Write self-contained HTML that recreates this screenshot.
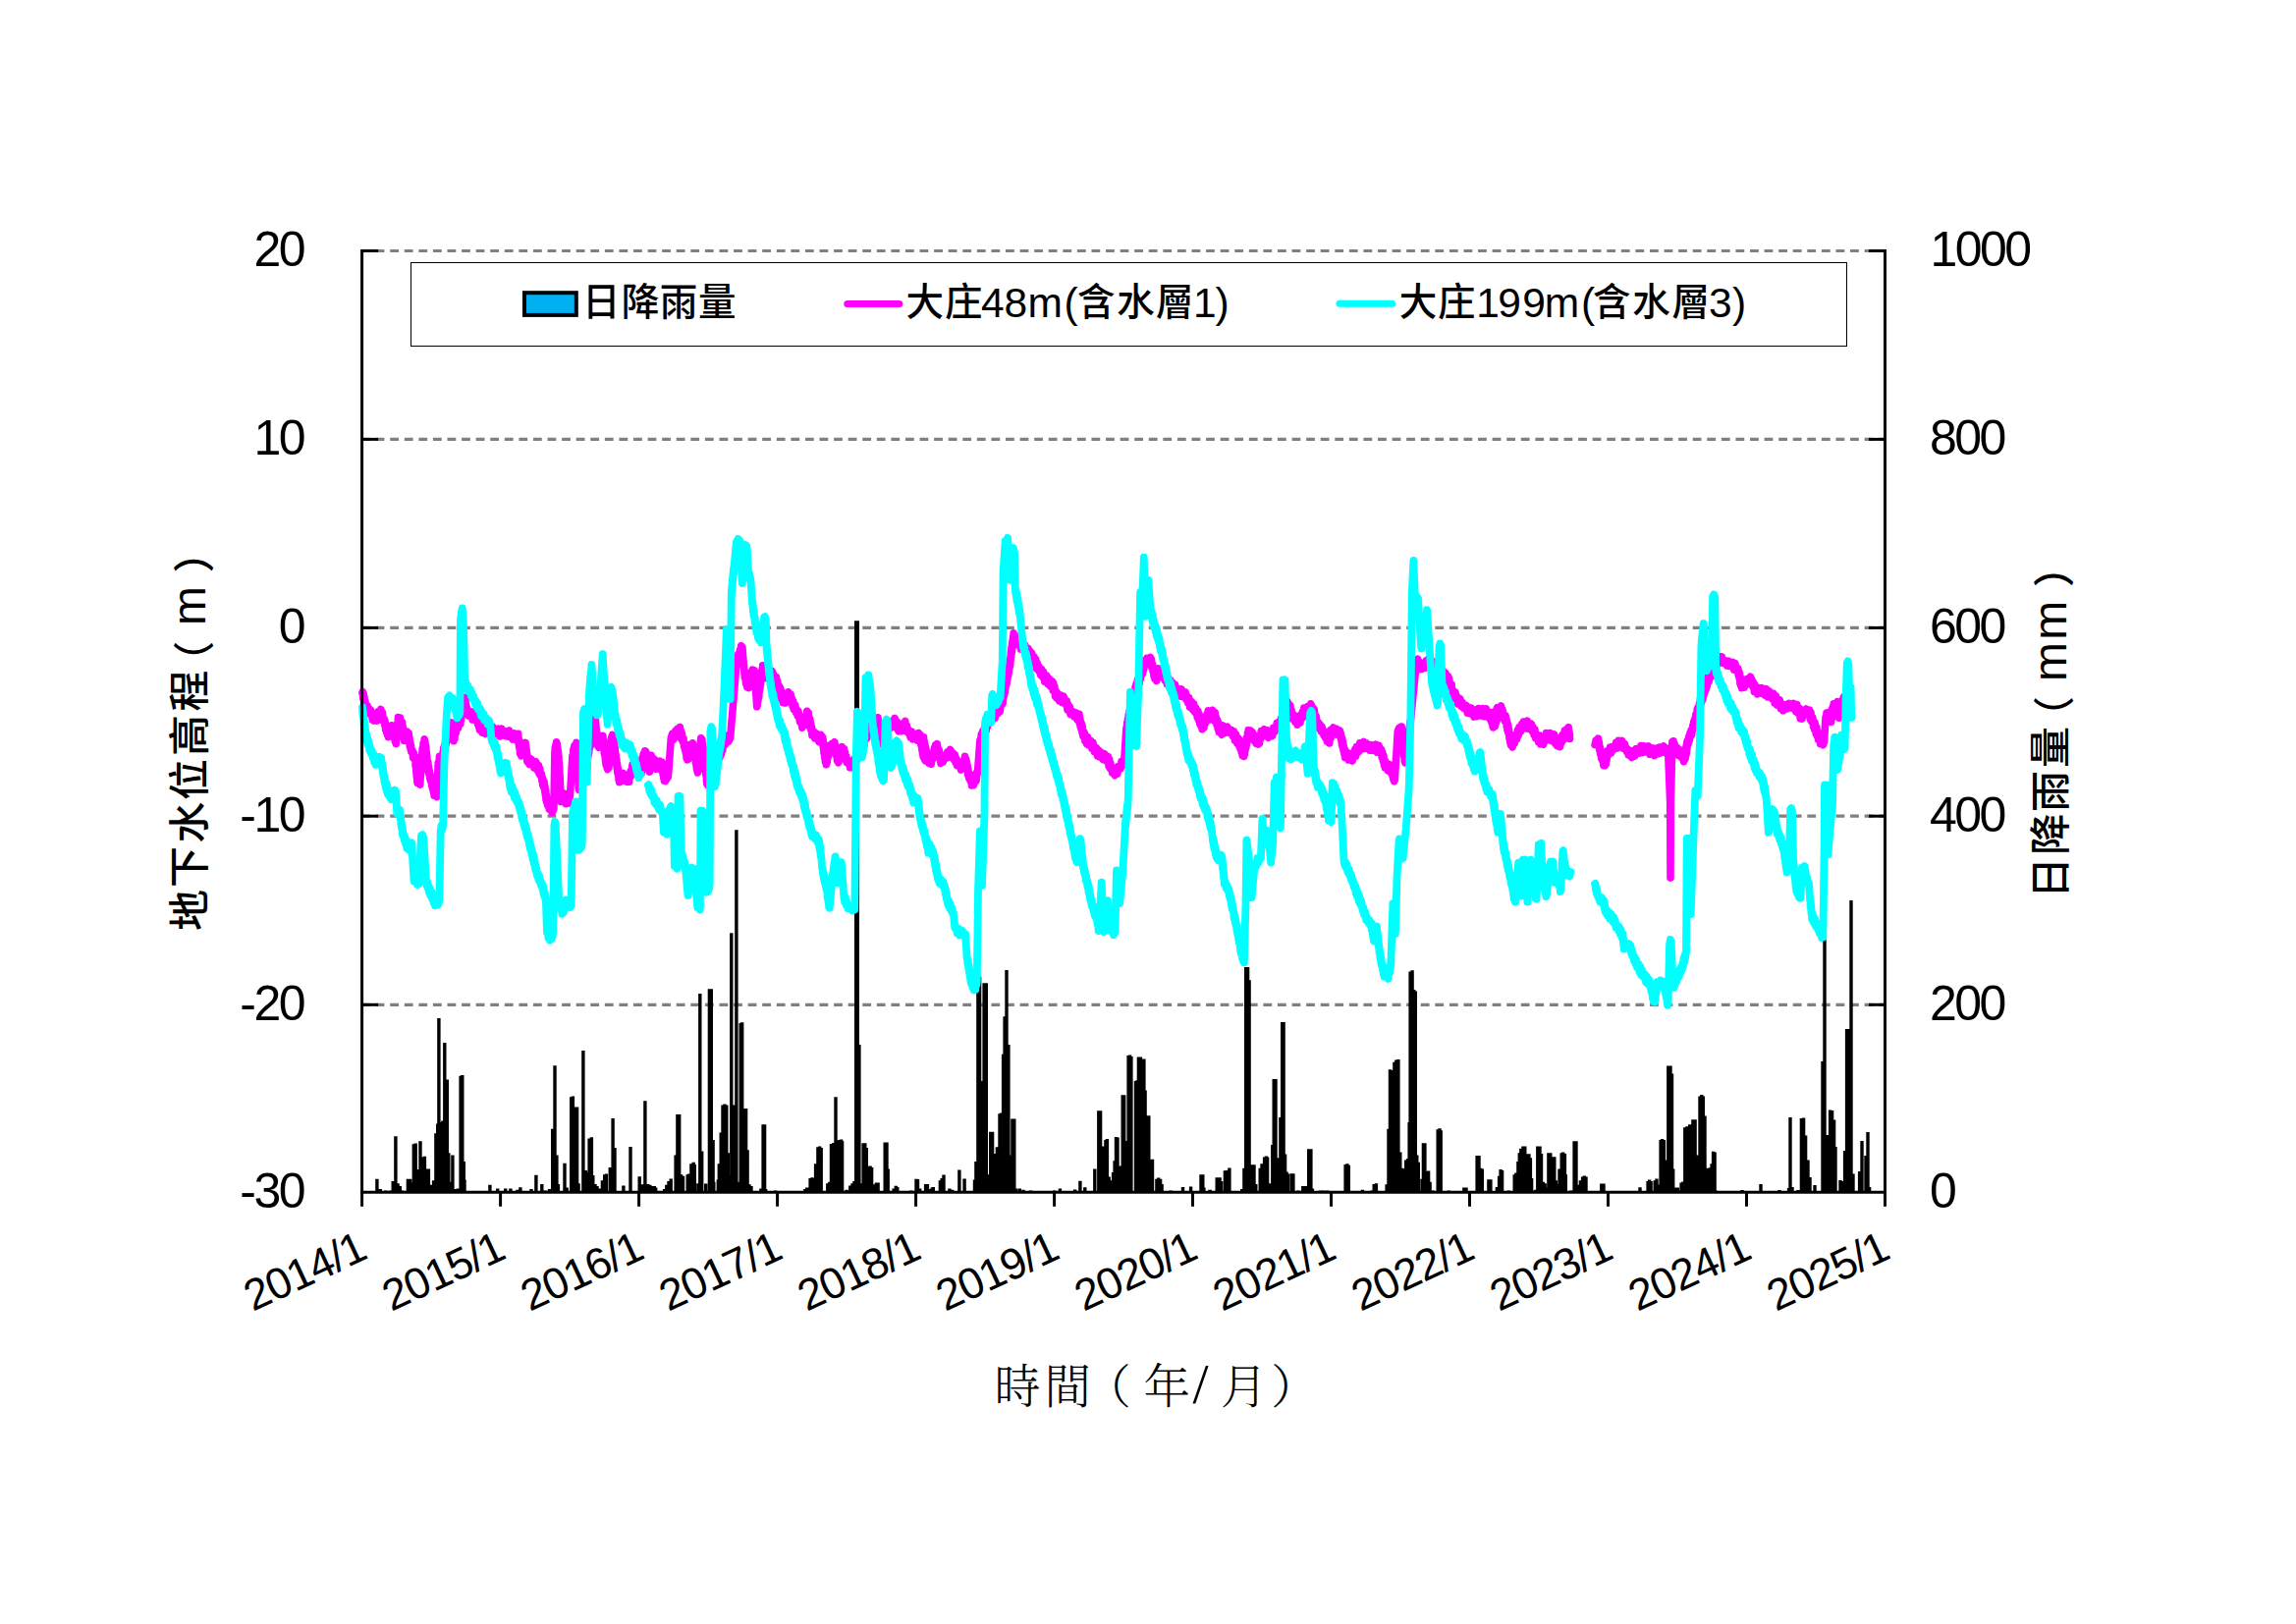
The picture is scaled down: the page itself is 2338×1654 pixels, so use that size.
<!DOCTYPE html>
<html lang="zh-Hant"><head><meta charset="utf-8"><title>地下水位與日降雨量</title>
<style>html,body{margin:0;padding:0;background:#fff}svg{display:block}text{font-family:"Liberation Sans","Noto Sans CJK TC","Noto Sans CJK SC",sans-serif;fill:#000;font-weight:500}.n{font-weight:400}.kai{font-family:"Liberation Serif","Noto Serif CJK TC","Noto Serif CJK SC",serif;font-weight:300}</style></head><body>
<svg width="2338" height="1654" viewBox="0 0 2338 1654">
<rect width="2338" height="1654" fill="#fff"/>
<g stroke="#808080" stroke-width="3.2" stroke-dasharray="8.8 5.777" fill="none">
<line x1="368.05" y1="255.5" x2="1919.5" y2="255.5"/>
<line x1="368.05" y1="447.4" x2="1919.5" y2="447.4"/>
<line x1="368.05" y1="639.4" x2="1919.5" y2="639.4"/>
<line x1="368.05" y1="831.2" x2="1919.5" y2="831.2"/>
<line x1="368.05" y1="1023.3" x2="1919.5" y2="1023.3"/>
</g>
<g fill="#000">
<path d="M382.2 1214.3V1200.8h3.4V1214.3zM385.6 1214.3V1211.1h3.4V1214.3zM391.1 1214.3V1212.6h3.4V1214.3zM396.4 1214.3V1212.6h3.4V1214.3zM398.5 1214.3V1203.0h3.4V1214.3zM401.2 1214.3V1157.2h3.4V1214.3zM403.4 1214.3V1205.2h3.4V1214.3zM405.6 1214.3V1208.1h3.4V1214.3zM407.8 1214.3V1212.6h3.4V1214.3zM413.7 1214.3V1200.8h3.4V1214.3zM415.9 1214.3V1200.8h3.4V1214.3zM417.4 1214.3V1204.4h3.4V1214.3zM419.6 1214.3V1165.3h3.4V1214.3zM421.5 1214.3V1164.5h3.4V1214.3zM424.1 1214.3V1191.1h3.4V1214.3zM426.3 1214.3V1162.3h3.4V1214.3zM428.5 1214.3V1178.6h3.4V1214.3zM430.7 1214.3V1177.8h3.4V1214.3zM432.9 1214.3V1190.4h3.4V1214.3zM434.7 1214.3V1190.4h3.4V1214.3zM436.6 1214.3V1206.7h3.4V1214.3zM438.1 1214.3V1208.9h3.4V1214.3zM439.9 1214.3V1202.2h3.4V1214.3zM442.2 1214.3V1154.2h3.4V1214.3zM444.0 1214.3V1144.6h3.4V1214.3zM445.2 1214.3V1037.0h3.4V1214.3zM447.4 1214.3V1143.1h3.4V1214.3zM449.2 1214.3V1141.6h3.4V1214.3zM451.1 1214.3V1062.1h3.4V1214.3zM453.6 1214.3V1099.5h3.4V1214.3zM455.1 1214.3V1174.2h3.4V1214.3zM457.0 1214.3V1203.7h3.4V1214.3zM459.2 1214.3V1176.4h3.4V1214.3zM461.7 1214.3V1211.1h3.4V1214.3zM464.7 1214.3V1210.4h3.4V1214.3zM467.4 1214.3V1095.8h3.4V1214.3zM469.1 1214.3V1095.1h3.4V1214.3zM470.6 1214.3V1183.0h3.4V1214.3zM471.3 1214.3V1201.5h3.4V1214.3zM497.2 1214.3V1206.7h3.4V1214.3zM505.0 1214.3V1210.4h3.4V1214.3zM513.0 1214.3V1210.4h3.4V1214.3zM518.2 1214.3V1210.4h3.4V1214.3zM525.3 1214.3V1211.8h3.4V1214.3zM528.2 1214.3V1209.3h3.4V1214.3zM539.3 1214.3V1211.1h3.4V1214.3zM544.2 1214.3V1196.8h3.4V1214.3zM550.1 1214.3V1205.9h3.4V1214.3zM553.4 1214.3V1212.6h3.4V1214.3zM557.8 1214.3V1211.1h3.4V1214.3zM561.0 1214.3V1149.8h3.4V1214.3zM563.3 1214.3V1085.2h3.4V1214.3zM565.2 1214.3V1176.4h3.4V1214.3zM566.7 1214.3V1205.9h3.4V1214.3zM573.3 1214.3V1184.8h3.4V1214.3zM575.5 1214.3V1209.6h3.4V1214.3zM580.0 1214.3V1117.3h3.4V1214.3zM581.7 1214.3V1116.5h3.4V1214.3zM583.7 1214.3V1127.6h3.4V1214.3zM585.9 1214.3V1127.6h3.4V1214.3zM587.4 1214.3V1205.2h3.4V1214.3zM592.2 1214.3V1070.0h3.4V1214.3zM594.7 1214.3V1191.9h3.4V1214.3zM596.5 1214.3V1194.1h3.4V1214.3zM598.4 1214.3V1159.4h3.4V1214.3zM600.7 1214.3V1158.2h3.4V1214.3zM602.1 1214.3V1197.1h3.4V1214.3zM604.3 1214.3V1205.9h3.4V1214.3zM606.3 1214.3V1208.1h3.4V1214.3zM609.5 1214.3V1210.4h3.4V1214.3zM611.7 1214.3V1202.2h3.4V1214.3zM614.0 1214.3V1196.3h3.4V1214.3zM615.7 1214.3V1195.6h3.4V1214.3zM619.6 1214.3V1188.9h3.4V1214.3zM622.4 1214.3V1139.1h3.4V1214.3zM624.3 1214.3V1169.0h3.4V1214.3zM633.2 1214.3V1207.4h3.4V1214.3zM640.3 1214.3V1167.9h3.4V1214.3zM649.5 1214.3V1198.2h3.4V1214.3zM652.0 1214.3V1206.2h3.4V1214.3zM655.2 1214.3V1121.2h3.4V1214.3zM657.9 1214.3V1205.9h3.4V1214.3zM660.1 1214.3V1206.7h3.4V1214.3zM662.3 1214.3V1208.1h3.4V1214.3zM664.6 1214.3V1208.1h3.4V1214.3zM666.0 1214.3V1209.6h3.4V1214.3zM674.9 1214.3V1211.1h3.4V1214.3zM677.1 1214.3V1206.7h3.4V1214.3zM679.3 1214.3V1203.0h3.4V1214.3zM681.5 1214.3V1200.5h3.4V1214.3zM686.4 1214.3V1176.4h3.4V1214.3zM688.2 1214.3V1135.0h3.4V1214.3zM690.0 1214.3V1135.0h3.4V1214.3zM691.9 1214.3V1196.3h3.4V1214.3zM693.8 1214.3V1197.8h3.4V1214.3zM698.5 1214.3V1196.3h3.4V1214.3zM700.0 1214.3V1195.6h3.4V1214.3zM702.2 1214.3V1185.2h3.4V1214.3zM704.5 1214.3V1183.8h3.4V1214.3zM705.6 1214.3V1186.0h3.4V1214.3zM709.2 1214.3V1205.2h3.4V1214.3zM711.1 1214.3V1012.0h3.4V1214.3zM713.0 1214.3V1172.4h3.4V1214.3zM717.0 1214.3V1205.6h3.4V1214.3zM720.7 1214.3V1007.2h3.4V1214.3zM722.6 1214.3V1007.2h3.4V1214.3zM724.4 1214.3V1160.9h3.4V1214.3zM725.1 1214.3V1203.7h3.4V1214.3zM729.6 1214.3V1201.5h3.4V1214.3zM730.6 1214.3V1185.2h3.4V1214.3zM732.5 1214.3V1153.5h3.4V1214.3zM734.3 1214.3V1125.4h3.4V1214.3zM736.2 1214.3V1124.4h3.4V1214.3zM738.1 1214.3V1125.4h3.4V1214.3zM739.6 1214.3V1174.2h3.4V1214.3zM741.1 1214.3V1197.1h3.4V1214.3zM745.1 1214.3V1125.4h3.4V1214.3zM750.3 1214.3V1203.7h3.4V1214.3zM752.5 1214.3V1041.9h3.4V1214.3zM754.0 1214.3V1041.2h3.4V1214.3zM755.9 1214.3V1129.1h3.4V1214.3zM757.9 1214.3V1129.1h3.4V1214.3zM759.4 1214.3V1171.2h3.4V1214.3zM761.3 1214.3V1206.2h3.4V1214.3zM763.3 1214.3V1208.1h3.4V1214.3zM773.2 1214.3V1210.4h3.4V1214.3zM775.4 1214.3V1145.3h3.4V1214.3zM776.9 1214.3V1145.3h3.4V1214.3zM778.0 1214.3V1211.1h3.4V1214.3zM787.9 1214.3V1212.6h3.4V1214.3zM802.0 1214.3V1212.9h3.4V1214.3zM818.2 1214.3V1211.1h3.4V1214.3zM820.0 1214.3V1209.6h3.4V1214.3zM823.4 1214.3V1200.0h3.4V1214.3zM825.3 1214.3V1199.3h3.4V1214.3zM827.1 1214.3V1200.0h3.4V1214.3zM828.9 1214.3V1185.2h3.4V1214.3zM831.2 1214.3V1168.2h3.4V1214.3zM833.0 1214.3V1167.5h3.4V1214.3zM834.5 1214.3V1169.0h3.4V1214.3zM841.1 1214.3V1205.2h3.4V1214.3zM843.1 1214.3V1203.7h3.4V1214.3zM844.8 1214.3V1165.0h3.4V1214.3zM847.1 1214.3V1164.1h3.4V1214.3zM849.3 1214.3V1117.3h3.4V1214.3zM851.0 1214.3V1161.6h3.4V1214.3zM853.0 1214.3V1160.9h3.4V1214.3zM854.9 1214.3V1160.6h3.4V1214.3zM855.9 1214.3V1162.3h3.4V1214.3zM860.4 1214.3V1211.8h3.4V1214.3zM864.1 1214.3V1207.4h3.4V1214.3zM866.3 1214.3V1205.2h3.4V1214.3zM868.2 1214.3V1203.0h3.4V1214.3zM873.2 1214.3V1064.1h3.4V1214.3zM875.1 1214.3V1205.2h3.4V1214.3zM877.4 1214.3V1164.3h3.4V1214.3zM879.1 1214.3V1164.3h3.4V1214.3zM880.6 1214.3V1169.0h3.4V1214.3zM882.5 1214.3V1188.2h3.4V1214.3zM884.4 1214.3V1187.5h3.4V1214.3zM885.9 1214.3V1188.9h3.4V1214.3zM887.7 1214.3V1206.2h3.4V1214.3zM890.7 1214.3V1204.4h3.4V1214.3zM892.4 1214.3V1204.4h3.4V1214.3zM899.5 1214.3V1163.4h3.4V1214.3zM901.3 1214.3V1163.4h3.4V1214.3zM902.5 1214.3V1190.4h3.4V1214.3zM908.4 1214.3V1210.4h3.4V1214.3zM910.6 1214.3V1207.8h3.4V1214.3zM912.1 1214.3V1208.9h3.4V1214.3zM926.1 1214.3V1212.6h3.4V1214.3zM931.3 1214.3V1200.8h3.4V1214.3zM932.8 1214.3V1201.0h3.4V1214.3zM935.0 1214.3V1210.4h3.4V1214.3zM940.9 1214.3V1205.9h3.4V1214.3zM942.7 1214.3V1205.9h3.4V1214.3zM947.5 1214.3V1209.6h3.4V1214.3zM743.1 1214.3V950.3h3.4V1214.3zM748.2 1214.3V845.3h3.4V1214.3zM870.0 1214.3V632.2h5.0V1214.3zM941.6 1214.3V1205.9h3.4V1214.3zM944.9 1214.3V1211.1h3.4V1214.3zM948.6 1214.3V1208.9h3.4V1214.3zM955.7 1214.3V1202.2h3.4V1214.3zM957.5 1214.3V1200.0h3.4V1214.3zM959.3 1214.3V1196.6h3.4V1214.3zM965.2 1214.3V1210.4h3.4V1214.3zM967.9 1214.3V1211.8h3.4V1214.3zM975.2 1214.3V1191.6h3.4V1214.3zM980.4 1214.3V1200.5h3.4V1214.3zM990.8 1214.3V1201.5h3.4V1214.3zM992.2 1214.3V1183.0h3.4V1214.3zM994.2 1214.3V1010.1h3.4V1214.3zM995.9 1214.3V994.6h3.4V1214.3zM997.4 1214.3V1101.0h3.4V1214.3zM1000.4 1214.3V1001.3h3.4V1214.3zM1002.6 1214.3V1001.3h3.4V1214.3zM1004.1 1214.3V1196.3h3.4V1214.3zM1007.0 1214.3V1152.7h3.4V1214.3zM1008.9 1214.3V1152.7h3.4V1214.3zM1011.0 1214.3V1174.9h3.4V1214.3zM1013.7 1214.3V1168.2h3.4V1214.3zM1016.3 1214.3V1134.3h3.4V1214.3zM1018.1 1214.3V1133.5h3.4V1214.3zM1019.9 1214.3V1073.7h3.4V1214.3zM1021.4 1214.3V1035.2h3.4V1214.3zM1023.3 1214.3V988.0h3.4V1214.3zM1025.2 1214.3V1064.1h3.4V1214.3zM1027.0 1214.3V1176.4h3.4V1214.3zM1029.2 1214.3V1139.4h3.4V1214.3zM1031.1 1214.3V1139.4h3.4V1214.3zM1032.9 1214.3V1210.4h3.4V1214.3zM1036.6 1214.3V1210.4h3.4V1214.3zM1040.3 1214.3V1211.8h3.4V1214.3zM1047.9 1214.3V1212.6h3.4V1214.3zM1072.0 1214.3V1212.6h3.4V1214.3zM1077.7 1214.3V1210.4h3.4V1214.3zM1093.0 1214.3V1211.4h3.4V1214.3zM1098.2 1214.3V1202.7h3.4V1214.3zM1103.1 1214.3V1209.3h3.4V1214.3zM1113.1 1214.3V1190.4h3.4V1214.3zM1117.1 1214.3V1131.3h3.4V1214.3zM1118.9 1214.3V1131.3h3.4V1214.3zM1120.8 1214.3V1167.5h3.4V1214.3zM1124.2 1214.3V1160.9h3.4V1214.3zM1125.7 1214.3V1160.1h3.4V1214.3zM1127.5 1214.3V1198.5h3.4V1214.3zM1130.1 1214.3V1202.2h3.4V1214.3zM1131.9 1214.3V1194.1h3.4V1214.3zM1133.4 1214.3V1182.3h3.4V1214.3zM1134.8 1214.3V1157.9h3.4V1214.3zM1136.3 1214.3V1158.6h3.4V1214.3zM1139.3 1214.3V1187.5h3.4V1214.3zM1141.5 1214.3V1115.3h3.4V1214.3zM1143.0 1214.3V1115.3h3.4V1214.3zM1144.9 1214.3V1162.0h3.4V1214.3zM1147.4 1214.3V1075.1h3.4V1214.3zM1148.9 1214.3V1074.4h3.4V1214.3zM1150.2 1214.3V1075.9h3.4V1214.3zM1154.8 1214.3V1101.0h3.4V1214.3zM1156.4 1214.3V1100.3h3.4V1214.3zM1157.7 1214.3V1076.6h3.4V1214.3zM1159.7 1214.3V1076.6h3.4V1214.3zM1161.4 1214.3V1078.4h3.4V1214.3zM1163.2 1214.3V1078.4h3.4V1214.3zM1164.4 1214.3V1110.6h3.4V1214.3zM1166.3 1214.3V1136.2h3.4V1214.3zM1168.1 1214.3V1136.2h3.4V1214.3zM1169.9 1214.3V1181.5h3.4V1214.3zM1171.8 1214.3V1180.8h3.4V1214.3zM1176.2 1214.3V1200.8h3.4V1214.3zM1178.0 1214.3V1199.6h3.4V1214.3zM1179.9 1214.3V1200.8h3.4V1214.3zM1181.4 1214.3V1205.9h3.4V1214.3zM1190.3 1214.3V1212.6h3.4V1214.3zM1202.8 1214.3V1208.9h3.4V1214.3zM1210.9 1214.3V1208.4h3.4V1214.3zM1221.3 1214.3V1196.3h3.4V1214.3zM1223.1 1214.3V1196.3h3.4V1214.3zM1224.2 1214.3V1209.6h3.4V1214.3zM1230.2 1214.3V1211.8h3.4V1214.3zM1237.5 1214.3V1199.3h3.4V1214.3zM1230.5 1214.3V1211.8h3.4V1214.3zM1238.6 1214.3V1199.3h3.4V1214.3zM1240.4 1214.3V1199.3h3.4V1214.3zM1241.9 1214.3V1203.0h3.4V1214.3zM1245.7 1214.3V1192.2h3.4V1214.3zM1247.5 1214.3V1191.9h3.4V1214.3zM1250.2 1214.3V1189.4h3.4V1214.3zM1263.0 1214.3V1211.1h3.4V1214.3zM1265.2 1214.3V1189.7h3.4V1214.3zM1267.0 1214.3V985.0h3.4V1214.3zM1268.9 1214.3V985.0h3.4V1214.3zM1270.4 1214.3V998.3h3.4V1214.3zM1271.9 1214.3V1197.8h3.4V1214.3zM1273.4 1214.3V1186.3h3.4V1214.3zM1275.3 1214.3V1186.3h3.4V1214.3zM1277.1 1214.3V1205.9h3.4V1214.3zM1281.5 1214.3V1189.7h3.4V1214.3zM1283.3 1214.3V1185.2h3.4V1214.3zM1285.9 1214.3V1178.6h3.4V1214.3zM1287.7 1214.3V1177.4h3.4V1214.3zM1288.9 1214.3V1178.6h3.4V1214.3zM1291.1 1214.3V1205.2h3.4V1214.3zM1294.1 1214.3V1166.0h3.4V1214.3zM1295.5 1214.3V1099.1h3.4V1214.3zM1297.3 1214.3V1099.1h3.4V1214.3zM1299.2 1214.3V1179.3h3.4V1214.3zM1300.7 1214.3V1180.1h3.4V1214.3zM1302.2 1214.3V1137.9h3.4V1214.3zM1304.0 1214.3V1040.9h3.4V1214.3zM1305.4 1214.3V1040.9h3.4V1214.3zM1306.9 1214.3V1175.6h3.4V1214.3zM1308.4 1214.3V1193.4h3.4V1214.3zM1309.6 1214.3V1195.6h3.4V1214.3zM1313.3 1214.3V1195.3h3.4V1214.3zM1315.2 1214.3V1195.3h3.4V1214.3zM1320.2 1214.3V1212.6h3.4V1214.3zM1325.1 1214.3V1208.1h3.4V1214.3zM1328.0 1214.3V1208.1h3.4V1214.3zM1331.0 1214.3V1170.2h3.4V1214.3zM1333.2 1214.3V1170.2h3.4V1214.3zM1334.7 1214.3V1210.4h3.4V1214.3zM1342.8 1214.3V1212.6h3.4V1214.3zM1345.8 1214.3V1212.6h3.4V1214.3zM1349.8 1214.3V1212.6h3.4V1214.3zM1362.0 1214.3V1212.9h3.4V1214.3zM1368.4 1214.3V1186.0h3.4V1214.3zM1370.2 1214.3V1185.2h3.4V1214.3zM1371.6 1214.3V1186.7h3.4V1214.3zM1385.7 1214.3V1211.8h3.4V1214.3zM1395.3 1214.3V1212.6h3.4V1214.3zM1397.5 1214.3V1205.9h3.4V1214.3zM1399.7 1214.3V1205.2h3.4V1214.3zM1410.4 1214.3V1206.2h3.4V1214.3zM1412.3 1214.3V1149.8h3.4V1214.3zM1413.8 1214.3V1089.2h3.4V1214.3zM1415.2 1214.3V1089.9h3.4V1214.3zM1416.7 1214.3V1205.9h3.4V1214.3zM1418.2 1214.3V1081.8h3.4V1214.3zM1420.1 1214.3V1079.6h3.4V1214.3zM1422.2 1214.3V1079.1h3.4V1214.3zM1424.1 1214.3V1173.4h3.4V1214.3zM1426.3 1214.3V1189.7h3.4V1214.3zM1427.8 1214.3V1191.1h3.4V1214.3zM1430.0 1214.3V1181.5h3.4V1214.3zM1431.9 1214.3V1180.1h3.4V1214.3zM1433.4 1214.3V1143.1h3.4V1214.3zM1434.4 1214.3V989.4h3.4V1214.3zM1436.4 1214.3V988.3h3.4V1214.3zM1438.1 1214.3V1007.9h3.4V1214.3zM1439.6 1214.3V1009.4h3.4V1214.3zM1441.1 1214.3V1176.4h3.4V1214.3zM1442.6 1214.3V1183.8h3.4V1214.3zM1446.3 1214.3V1200.8h3.4V1214.3zM1447.7 1214.3V1164.3h3.4V1214.3zM1449.2 1214.3V1164.3h3.4V1214.3zM1451.4 1214.3V1193.1h3.4V1214.3zM1452.9 1214.3V1192.6h3.4V1214.3zM1454.4 1214.3V1203.7h3.4V1214.3zM1457.4 1214.3V1212.6h3.4V1214.3zM1462.5 1214.3V1150.2h3.4V1214.3zM1464.3 1214.3V1149.3h3.4V1214.3zM1465.5 1214.3V1151.2h3.4V1214.3zM1473.6 1214.3V1212.6h3.4V1214.3zM1481.7 1214.3V1212.9h3.4V1214.3zM1489.1 1214.3V1209.6h3.4V1214.3zM1491.3 1214.3V1209.6h3.4V1214.3zM1502.4 1214.3V1177.1h3.4V1214.3zM1504.3 1214.3V1177.1h3.4V1214.3zM1506.1 1214.3V1189.7h3.4V1214.3zM1507.6 1214.3V1190.4h3.4V1214.3zM1514.2 1214.3V1201.2h3.4V1214.3zM1516.2 1214.3V1201.2h3.4V1214.3zM1522.7 1214.3V1208.9h3.4V1214.3zM1524.9 1214.3V1197.8h3.4V1214.3zM1526.4 1214.3V1190.9h3.4V1214.3zM1527.9 1214.3V1191.9h3.4V1214.3zM1534.6 1214.3V1212.6h3.4V1214.3zM1540.5 1214.3V1196.3h3.4V1214.3zM1542.2 1214.3V1194.5h3.4V1214.3zM1544.2 1214.3V1183.0h3.4V1214.3zM1545.6 1214.3V1174.2h3.4V1214.3zM1547.1 1214.3V1169.7h3.4V1214.3zM1549.3 1214.3V1167.5h3.4V1214.3zM1551.1 1214.3V1167.5h3.4V1214.3zM1553.0 1214.3V1175.3h3.4V1214.3zM1555.2 1214.3V1175.3h3.4V1214.3zM1556.7 1214.3V1179.3h3.4V1214.3zM1557.9 1214.3V1200.0h3.4V1214.3zM1561.9 1214.3V1211.8h3.4V1214.3zM1564.1 1214.3V1167.5h3.4V1214.3zM1566.3 1214.3V1167.5h3.4V1214.3zM1567.8 1214.3V1174.9h3.4V1214.3zM1569.7 1214.3V1203.7h3.4V1214.3zM1571.5 1214.3V1205.2h3.4V1214.3zM1574.2 1214.3V1209.6h3.4V1214.3zM1575.2 1214.3V1174.2h3.4V1214.3zM1577.1 1214.3V1174.2h3.4V1214.3zM1578.9 1214.3V1178.3h3.4V1214.3zM1581.1 1214.3V1178.3h3.4V1214.3zM1582.6 1214.3V1202.2h3.4V1214.3zM1584.5 1214.3V1205.9h3.4V1214.3zM1586.3 1214.3V1190.4h3.4V1214.3zM1588.5 1214.3V1174.2h3.4V1214.3zM1590.0 1214.3V1173.4h3.4V1214.3zM1591.7 1214.3V1174.9h3.4V1214.3zM1592.6 1214.3V1196.3h3.4V1214.3zM1598.1 1214.3V1212.6h3.4V1214.3zM1601.4 1214.3V1162.3h3.4V1214.3zM1603.3 1214.3V1162.3h3.4V1214.3zM1605.5 1214.3V1206.7h3.4V1214.3zM1607.7 1214.3V1202.2h3.4V1214.3zM1609.9 1214.3V1198.5h3.4V1214.3zM1611.7 1214.3V1197.4h3.4V1214.3zM1613.3 1214.3V1198.5h3.4V1214.3zM1629.1 1214.3V1205.5h3.4V1214.3zM1631.3 1214.3V1205.5h3.4V1214.3zM1668.3 1214.3V1209.3h3.4V1214.3zM1676.4 1214.3V1203.0h3.4V1214.3zM1677.9 1214.3V1201.5h3.4V1214.3zM1679.4 1214.3V1203.0h3.4V1214.3zM1683.5 1214.3V1202.2h3.4V1214.3zM1685.3 1214.3V1200.5h3.4V1214.3zM1687.1 1214.3V1206.4h3.4V1214.3zM1689.4 1214.3V1160.9h3.4V1214.3zM1690.9 1214.3V1160.1h3.4V1214.3zM1692.7 1214.3V1160.9h3.4V1214.3zM1693.9 1214.3V1181.5h3.4V1214.3zM1697.1 1214.3V1085.5h3.4V1214.3zM1699.3 1214.3V1085.5h3.4V1214.3zM1700.8 1214.3V1093.6h3.4V1214.3zM1702.0 1214.3V1190.4h3.4V1214.3zM1703.8 1214.3V1209.6h3.4V1214.3zM1706.7 1214.3V1209.6h3.4V1214.3zM1710.4 1214.3V1204.4h3.4V1214.3zM1712.2 1214.3V1203.4h3.4V1214.3zM1714.1 1214.3V1148.3h3.4V1214.3zM1716.3 1214.3V1147.3h3.4V1214.3zM1719.0 1214.3V1145.3h3.4V1214.3zM1720.8 1214.3V1145.3h3.4V1214.3zM1722.2 1214.3V1140.2h3.4V1214.3zM1724.4 1214.3V1140.2h3.4V1214.3zM1725.9 1214.3V1176.4h3.4V1214.3zM1728.1 1214.3V1177.1h3.4V1214.3zM1729.3 1214.3V1116.5h3.4V1214.3zM1731.1 1214.3V1115.0h3.4V1214.3zM1732.6 1214.3V1116.5h3.4V1214.3zM1734.3 1214.3V1136.5h3.4V1214.3zM1735.8 1214.3V1200.8h3.4V1214.3zM1737.7 1214.3V1189.7h3.4V1214.3zM1739.7 1214.3V1189.2h3.4V1214.3zM1741.4 1214.3V1185.2h3.4V1214.3zM1742.9 1214.3V1172.7h3.4V1214.3zM1744.4 1214.3V1173.4h3.4V1214.3zM1745.4 1214.3V1212.6h3.4V1214.3zM1772.5 1214.3V1212.6h3.4V1214.3zM1772.3 1214.3V1212.0h3.4V1214.3zM1791.3 1214.3V1206.0h3.4V1214.3zM1810.3 1214.3V1212.0h3.4V1214.3zM1819.9 1214.3V1210.0h3.4V1214.3zM1821.3 1214.3V1138.0h3.4V1214.3zM1823.3 1214.3V1209.0h3.4V1214.3zM1829.3 1214.3V1212.0h3.4V1214.3zM1832.7 1214.3V1139.0h3.4V1214.3zM1834.9 1214.3V1138.4h3.4V1214.3zM1836.9 1214.3V1156.4h3.4V1214.3zM1839.3 1214.3V1181.6h3.4V1214.3zM1841.3 1214.3V1199.0h3.4V1214.3zM1846.3 1214.3V1207.0h3.4V1214.3zM1854.3 1214.3V1081.0h3.4V1214.3zM1856.3 1214.3V957.0h3.4V1214.3zM1859.3 1214.3V1156.0h3.4V1214.3zM1861.9 1214.3V1130.4h3.4V1214.3zM1863.9 1214.3V1131.0h3.4V1214.3zM1865.9 1214.3V1140.6h3.4V1214.3zM1867.3 1214.3V1168.0h3.4V1214.3zM1872.3 1214.3V1202.0h3.4V1214.3zM1875.3 1214.3V1203.0h3.4V1214.3zM1876.9 1214.3V1172.0h3.4V1214.3zM1878.9 1214.3V1048.0h3.4V1214.3zM1880.9 1214.3V1048.0h3.4V1214.3zM1883.3 1214.3V917.0h3.4V1214.3zM1885.3 1214.3V1195.6h3.4V1214.3zM1891.9 1214.3V1193.0h3.4V1214.3zM1894.3 1214.3V1162.0h3.4V1214.3zM1898.3 1214.3V1177.0h3.4V1214.3zM1900.3 1214.3V1153.0h3.4V1214.3zM1901.9 1214.3V1209.0h3.4V1214.3z"/>
</g>
<g fill="none" stroke-linejoin="round" stroke-linecap="round" stroke-width="7.8">
<path stroke="#ff00ff" stroke-width="7.6" d="M368.9 705.6L369.3 704.3L369.7 711.1L370.2 706.6L370.6 714.0L371.0 710.0L371.5 717.8L371.9 714.2L372.3 717.9L373.2 722.6L374.1 718.6L375.0 725.3L375.8 721.4L376.7 727.2L377.6 723.3L378.5 727.8L379.4 733.1L380.3 727.9L381.2 734.1L382.2 732.7L383.2 727.7L384.1 734.1L385.1 724.8L386.1 729.8L387.1 725.3L387.8 722.4L388.6 730.4L389.3 725.6L390.0 734.0L390.8 732.7L391.2 731.9L391.7 738.2L392.1 734.6L392.6 743.0L393.0 738.1L393.5 745.6L393.9 740.1L394.4 748.2L394.8 743.4L395.3 750.6L395.7 750.0L396.3 746.1L396.9 749.2L397.6 741.3L398.2 746.5L398.8 738.9L399.4 740.1L399.8 745.2L400.2 740.2L400.6 747.8L401.1 742.7L401.5 752.1L401.9 747.3L402.3 755.0L402.7 749.9L403.1 754.9L403.3 757.4L403.5 747.6L403.7 752.5L403.9 743.6L404.1 748.7L404.2 741.6L404.4 746.8L404.6 738.8L404.8 742.8L405.0 735.7L405.2 739.8L405.4 730.5L405.6 732.7L406.5 737.4L407.4 731.0L408.3 739.2L409.3 737.6L409.5 735.5L409.8 744.4L410.1 739.1L410.4 747.4L410.6 741.7L410.9 751.9L411.2 745.9L411.5 754.4L411.7 752.4L412.6 749.0L413.6 753.7L414.5 745.1L415.4 747.5L415.8 753.7L416.2 746.9L416.5 755.4L416.9 751.4L417.3 759.8L417.6 755.8L418.0 762.7L418.4 758.8L418.7 765.3L419.1 764.7L419.9 764.0L420.6 771.6L421.3 766.8L422.1 773.3L422.8 772.1L423.0 770.8L423.1 779.6L423.3 774.8L423.5 781.8L423.6 776.9L423.8 786.2L424.0 779.6L424.1 789.4L424.3 784.2L424.4 791.6L424.6 787.3L424.8 796.0L424.9 789.1L425.1 797.5L425.3 796.7L426.5 795.5L427.7 799.2L430.2 762.3L430.7 763.4L431.2 756.7L431.7 761.1L432.2 752.9L432.7 754.9L432.8 759.3L433.0 756.3L433.2 763.1L433.4 758.8L433.6 766.8L433.8 760.7L434.0 770.5L434.2 765.2L434.4 773.8L434.6 768.2L434.7 775.8L434.9 771.1L435.1 777.0L435.5 782.7L435.9 776.3L436.2 786.2L436.6 780.9L437.0 788.7L437.3 785.1L437.7 792.7L438.1 788.7L438.4 794.8L438.8 794.3L439.2 793.4L439.6 800.0L440.0 796.3L440.5 803.0L440.9 800.5L441.3 806.5L441.7 803.5L442.1 810.3L442.5 809.1L443.7 808.2L445.0 811.5L446.2 777.0L446.9 779.6L447.5 770.2L448.2 772.1L449.0 775.7L449.9 774.6L450.3 770.2L450.7 774.1L451.0 766.5L451.4 770.1L451.8 761.9L452.2 768.8L452.6 759.5L452.9 764.2L453.3 757.0L453.7 759.8L454.1 753.0L454.4 756.8L454.8 752.4L455.4 746.7L455.9 751.6L456.5 745.4L457.0 750.2L457.6 740.9L458.1 744.9L458.7 737.6L459.2 741.4L459.8 737.6L460.0 735.9L460.3 745.4L460.6 738.4L460.8 748.0L461.1 743.2L461.4 750.4L461.7 746.7L461.9 754.7L462.2 752.4L462.6 747.3L462.9 752.8L463.3 744.3L463.6 748.0L464.0 739.6L464.3 746.3L464.7 740.1L465.6 734.7L466.5 741.7L467.5 732.4L468.4 735.2L468.8 737.3L469.1 729.2L469.5 733.4L469.9 725.4L470.3 728.7L470.6 722.8L471.0 726.0L471.4 718.9L471.8 723.6L472.2 713.7L472.5 719.5L472.9 710.4L473.3 713.0L473.7 719.2L474.0 712.1L474.4 721.2L474.7 717.5L475.1 724.4L475.4 721.0L475.8 725.3L477.0 729.1L478.2 727.8L479.7 724.7L481.2 733.0L482.7 725.2L484.1 733.0L485.6 730.2L486.1 728.1L486.5 737.3L487.0 732.6L487.5 740.1L487.9 733.7L488.4 743.4L488.8 737.1L489.3 742.6L491.0 746.0L492.8 740.6L494.5 747.3L496.2 740.7L497.9 743.8L499.8 748.1L501.6 740.0L503.5 747.7L505.3 745.0L507.2 742.3L509.0 750.0L510.9 742.1L512.7 746.3L514.2 749.2L515.7 744.9L517.1 750.1L518.6 744.0L520.1 748.7L521.9 753.0L523.8 746.9L525.6 753.7L527.5 750.0L527.7 747.2L528.0 757.1L528.2 752.2L528.5 760.2L528.7 756.2L529.0 762.4L529.2 757.6L529.5 767.4L529.7 762.1L530.0 767.2L530.8 769.9L531.6 760.8L532.4 766.4L533.2 756.6L534.1 761.5L534.9 757.3L535.1 756.4L535.4 763.5L535.6 759.9L535.9 767.7L536.1 763.3L536.4 770.7L536.6 767.1L536.8 775.4L537.1 770.0L537.3 774.6L539.0 778.6L540.6 772.8L542.3 777.0L543.9 782.1L545.6 775.6L547.2 779.5L547.8 785.4L548.4 779.5L549.0 787.8L549.7 782.8L550.3 789.8L550.9 789.4L551.3 787.8L551.8 794.9L552.3 791.9L552.7 799.5L553.2 794.6L553.7 801.8L554.1 796.3L554.6 801.7L554.9 806.7L555.1 802.1L555.4 809.9L555.7 804.8L555.9 813.9L556.2 809.2L556.5 816.6L556.8 812.2L557.0 816.5L557.8 820.6L558.5 815.5L559.3 824.2L560.0 818.9L560.7 823.8L562.3 827.7L563.9 823.8L564.9 767.2L565.3 761.3L565.6 767.0L565.9 758.7L566.2 763.9L566.6 755.7L566.9 757.3L567.1 762.7L567.3 757.5L567.5 765.6L567.7 760.7L567.9 769.9L568.1 763.4L568.3 773.0L568.5 766.1L568.7 774.8L568.9 770.4L569.2 779.8L569.4 777.0L571.3 816.5L571.9 810.9L572.5 815.9L573.1 809.7L573.7 813.7L574.3 809.1L574.8 808.3L575.3 814.6L575.8 811.3L576.3 818.7L576.7 816.5L577.7 811.3L578.6 818.2L579.5 810.4L580.4 811.5L582.9 769.7L583.4 772.0L583.9 763.0L584.4 767.6L584.9 759.5L585.4 762.3L586.2 765.0L587.0 756.4L587.8 757.3L589.1 801.7L589.6 804.4L590.0 795.4L590.5 800.0L591.0 790.6L591.5 797.5L592.0 789.4L592.5 793.3L593.0 785.2L593.5 789.8L594.0 782.7L594.5 786.4L595.0 778.2L595.5 782.4L596.0 775.3L596.5 777.0L596.8 778.5L597.2 771.7L597.5 775.0L597.9 766.9L598.3 772.1L598.6 765.0L599.0 770.0L599.4 759.9L599.7 766.7L600.1 758.3L600.5 761.7L600.8 755.2L601.2 759.7L601.6 751.4L601.9 754.8L602.3 747.7L602.7 753.4L603.0 743.4L603.4 748.5L603.8 741.8L604.1 746.9L604.5 737.5L604.8 743.0L605.2 735.4L605.6 738.2L605.9 730.6L606.3 732.7L608.8 759.8L609.6 761.2L610.4 754.3L611.2 759.2L612.1 749.6L612.9 755.6L613.7 750.0L613.9 749.4L614.1 757.4L614.3 752.7L614.5 760.7L614.7 755.0L614.9 762.7L615.1 758.1L615.3 767.4L615.5 762.0L615.7 768.7L616.0 764.7L616.2 772.3L616.4 769.0L616.6 775.4L616.8 772.4L617.0 778.7L617.2 775.1L617.4 779.5L618.6 783.5L619.9 782.0L622.3 752.4L623.5 748.5L624.8 752.4L625.0 756.9L625.2 752.6L625.3 760.0L625.5 756.4L625.7 763.0L625.9 760.0L626.1 766.4L626.3 762.2L626.5 771.1L626.7 767.0L626.9 774.4L627.1 768.5L627.2 774.6L627.5 778.5L627.9 773.8L628.2 782.6L628.5 777.9L628.8 786.9L629.1 781.4L629.4 789.4L629.7 784.0L630.0 793.8L630.3 788.1L630.6 796.7L630.9 794.3L632.2 789.3L633.4 795.4L634.6 787.6L635.9 789.4L636.8 793.8L637.7 790.3L638.6 796.3L639.6 795.5L640.1 791.7L640.6 796.2L641.1 788.1L641.7 791.6L642.2 785.4L642.7 790.1L643.3 784.4L644.0 778.8L644.7 785.2L645.5 777.3L646.2 781.1L646.9 777.0L648.0 775.5L649.0 782.7L650.0 778.3L651.1 785.1L652.1 780.5L653.1 784.4L653.3 787.1L653.6 776.6L653.8 782.6L654.1 774.9L654.3 780.2L654.6 771.3L654.8 775.3L655.1 768.6L655.3 771.9L655.6 767.2L652.5 778.8L653.1 773.9L653.7 778.7L654.3 771.2L654.9 775.3L655.5 768.3L656.2 771.3L656.8 764.7L657.4 765.2L657.7 769.9L658.1 766.5L658.4 772.3L658.7 769.2L659.1 776.2L659.4 771.8L659.7 780.3L660.1 774.8L660.4 784.0L660.7 778.2L661.1 783.7L661.4 786.1L661.8 777.2L662.1 781.2L662.5 772.2L662.8 777.3L663.2 769.3L663.5 771.4L664.4 776.6L665.2 772.5L666.0 780.4L666.8 773.7L667.7 783.2L668.5 781.2L669.7 776.2L670.9 782.8L672.2 775.2L673.4 776.3L673.7 781.3L674.1 776.4L674.4 785.4L674.7 779.0L675.1 788.8L675.4 782.9L675.8 792.3L676.1 786.0L676.4 795.2L676.8 790.5L677.1 794.8L677.7 795.4L678.3 789.6L678.9 793.4L679.6 786.7L680.2 791.7L680.8 786.2L683.3 751.7L684.5 747.4L685.7 753.6L686.9 749.2L687.9 744.4L688.9 750.5L689.9 742.3L690.9 746.3L691.9 743.1L692.4 740.6L692.9 750.1L693.5 744.5L694.0 752.7L694.5 747.3L695.0 754.7L695.6 754.1L696.0 752.0L696.5 760.1L696.9 757.0L697.4 763.5L697.8 758.7L698.3 766.7L698.7 762.0L699.1 772.0L699.6 766.0L700.0 773.9L700.5 772.6L700.8 767.7L701.1 772.9L701.4 763.6L701.7 769.4L702.0 760.5L702.3 764.7L702.6 758.4L703.0 759.1L704.2 762.5L705.4 756.8L706.7 761.5L706.9 765.9L707.1 761.4L707.4 768.5L707.6 765.9L707.9 772.4L708.1 767.7L708.4 776.8L708.6 771.0L708.9 779.1L709.1 774.6L709.4 782.8L709.6 778.1L709.9 785.2L710.1 780.3L710.3 786.2L710.5 787.0L710.7 778.3L710.9 785.4L711.1 777.3L711.3 780.9L711.5 772.0L711.7 778.8L711.9 769.5L712.1 773.7L712.3 766.8L712.5 772.0L712.7 763.4L712.9 767.7L713.1 760.2L713.3 764.2L713.5 754.8L713.7 759.9L713.8 751.8L714.0 754.1L714.4 759.1L714.9 753.2L715.3 762.8L715.7 758.1L716.1 766.6L716.5 764.0L716.7 762.5L716.9 769.5L717.1 767.1L717.2 774.1L717.4 769.5L717.6 777.1L717.8 773.7L718.0 780.7L718.2 776.7L718.3 785.3L718.5 780.9L718.7 788.6L718.9 782.3L719.1 790.5L719.3 785.5L719.5 795.4L719.6 789.0L719.8 797.8L720.0 793.8L720.2 798.5L720.8 799.9L721.4 790.8L722.0 797.2L722.7 789.2L723.3 793.6L723.9 786.3L724.5 789.5L725.1 783.5L725.7 788.3L726.4 779.9L727.0 785.4L727.6 776.8L728.2 780.6L728.8 776.3L729.5 771.5L730.2 775.7L730.9 768.7L731.6 774.5L732.3 764.4L733.0 771.1L733.7 761.9L734.4 768.3L735.1 758.1L735.7 764.3L736.4 755.6L737.1 760.0L737.8 752.5L738.5 757.9L739.2 749.3L739.9 751.7L741.7 755.3L743.6 751.7L746.1 722.1L749.8 677.8L750.2 673.4L750.6 676.6L751.0 668.5L751.4 673.6L751.8 666.4L752.2 667.9L752.8 669.4L753.4 662.3L754.1 667.5L754.7 657.7L755.3 663.4L755.9 659.3L758.4 690.1L759.0 688.1L759.6 696.2L760.2 691.6L760.8 699.7L761.5 695.9L762.1 700.0L762.4 700.6L762.8 693.9L763.1 698.9L763.5 689.7L763.8 693.7L764.2 685.1L764.5 687.6L765.5 690.9L766.4 682.0L767.3 686.3L768.2 682.7L770.7 719.7L770.9 715.4L771.2 718.5L771.4 711.6L771.7 715.0L771.9 708.4L772.2 712.0L772.4 704.2L772.7 710.1L772.9 700.3L773.2 702.4L773.4 703.8L773.7 696.0L774.0 700.6L774.3 692.6L774.6 696.7L774.9 690.0L775.1 693.2L775.4 684.4L775.7 689.4L776.0 682.1L776.3 687.2L776.6 677.8L776.8 680.2L777.3 684.3L777.8 680.5L778.3 687.3L778.8 683.1L779.3 687.6L781.0 690.8L782.8 683.2L784.5 691.8L786.2 683.5L787.9 687.6L788.5 691.3L789.2 688.6L789.8 696.0L790.4 689.6L791.0 698.5L791.6 693.4L792.2 700.4L792.9 700.0L793.4 698.6L794.0 707.6L794.5 700.8L795.0 710.7L795.6 703.7L796.1 712.4L796.7 709.2L797.2 715.5L797.8 714.7L798.8 710.2L799.8 716.0L800.9 706.7L801.9 713.6L802.9 704.9L803.9 707.3L804.6 712.8L805.2 707.3L805.8 715.3L806.4 711.4L807.0 719.0L807.6 714.0L808.3 722.4L808.9 719.7L809.7 717.7L810.5 725.7L811.3 722.2L812.2 728.9L813.0 724.3L813.8 729.5L814.4 734.9L815.0 730.5L815.6 736.6L816.3 732.8L816.9 741.2L817.5 739.4L818.1 734.8L818.7 738.9L819.3 731.2L820.0 735.3L820.6 728.9L821.2 733.3L821.8 724.2L822.4 727.0L822.8 732.3L823.2 726.1L823.6 735.2L824.1 731.0L824.5 737.9L824.9 732.5L825.3 742.3L825.7 737.4L826.1 743.9L826.5 740.2L826.9 748.8L827.3 746.7L828.6 744.9L829.8 751.9L831.0 746.8L832.3 751.7L833.9 755.6L835.6 748.3L837.2 750.4L837.4 754.3L837.7 751.0L837.9 758.7L838.2 753.6L838.4 761.6L838.7 756.8L838.9 766.4L839.2 761.0L839.4 768.5L839.7 763.3L839.9 772.2L840.1 767.1L840.4 775.5L840.6 772.0L840.9 776.3L841.3 778.7L841.8 770.5L842.3 776.1L842.7 766.9L843.2 771.1L843.7 764.5L844.1 768.6L844.6 764.0L845.6 758.8L846.6 765.4L847.5 757.2L848.5 761.1L849.5 756.6L849.9 755.8L850.2 764.5L850.6 759.4L851.0 765.7L851.4 763.0L851.7 769.9L852.1 764.4L852.5 774.6L852.8 768.3L853.2 773.8L853.9 776.8L854.6 766.3L855.3 771.9L856.0 765.0L856.7 770.3L857.4 760.5L858.1 762.8L858.7 766.6L859.4 762.5L860.0 770.8L860.6 766.6L861.2 774.1L861.8 770.5L862.4 776.6L863.1 776.3L864.3 774.8L865.5 781.7L866.7 775.6L868.0 781.2L868.7 782.0L869.4 773.7L870.1 779.1L870.8 772.1L871.5 777.5L872.3 767.8L873.0 773.4L873.7 766.6L874.4 770.4L875.1 762.7L875.8 768.4L876.5 760.1L877.2 763.9L878.0 755.2L878.7 760.0L879.4 753.3L880.1 758.8L880.8 749.3L881.5 751.7L882.4 752.4L883.3 746.7L884.2 749.6L885.0 741.7L885.9 747.3L886.8 739.4L887.7 746.1L888.6 737.6L889.4 741.7L890.3 733.2L891.2 739.7L892.1 732.1L893.0 737.2L893.8 732.0L894.0 730.8L894.2 738.0L894.3 734.9L894.5 742.4L894.7 735.9L894.8 745.4L895.0 739.1L895.2 747.2L895.3 744.1L895.5 751.6L895.6 745.6L895.8 756.1L896.0 750.3L896.1 757.6L896.3 756.6L897.1 751.9L897.9 756.6L898.8 747.4L899.6 752.5L900.4 744.4L901.2 746.7L902.2 749.1L903.2 739.7L904.2 746.3L905.2 737.3L906.2 739.4L907.4 741.2L908.6 734.6L909.9 739.3L911.1 731.5L912.3 734.4L912.9 738.3L913.5 735.2L914.2 743.2L914.8 738.4L915.4 744.8L916.0 744.3L917.0 740.7L918.0 744.7L919.0 737.0L920.0 742.8L920.9 736.9L921.8 734.3L922.6 744.7L923.4 739.1L924.2 745.7L925.0 742.8L925.9 746.7L927.1 751.0L928.3 744.9L929.6 752.8L930.8 748.1L932.0 751.7L933.7 753.9L935.3 746.5L936.9 749.2L937.2 754.6L937.5 748.7L937.8 758.4L938.1 752.4L938.4 760.1L938.7 755.3L938.9 763.9L939.2 759.4L939.5 767.5L939.8 762.4L940.1 770.5L940.4 767.0L940.6 771.4L942.3 774.8L943.9 770.6L945.6 773.8L940.0 750.9L940.3 756.8L940.6 750.8L940.8 758.8L941.1 754.6L941.4 763.8L941.7 757.7L942.0 765.3L942.2 760.3L942.5 769.7L942.8 763.2L943.1 769.4L944.0 772.9L944.9 768.6L945.8 777.1L946.8 770.2L947.7 775.5L948.3 778.3L948.9 770.3L949.5 773.7L950.2 767.1L950.8 770.3L951.4 761.9L952.0 768.2L952.6 758.9L953.2 764.6L953.9 760.1L954.4 757.7L954.9 766.7L955.4 762.6L955.9 770.9L956.4 764.3L956.9 772.7L957.4 768.6L958.0 777.4L958.5 775.5L959.4 771.7L960.3 776.0L961.2 769.5L962.2 773.1L963.1 769.4L964.6 766.0L966.2 771.4L967.7 763.4L969.2 766.3L970.0 770.4L970.8 767.3L971.6 773.8L972.3 768.8L973.1 776.5L973.9 772.7L974.6 779.6L975.4 778.6L976.9 775.7L978.5 784.1L980.0 781.7L980.5 778.0L981.1 780.9L981.6 774.1L982.1 778.9L982.6 770.4L983.1 772.5L983.4 776.4L983.8 773.5L984.1 781.3L984.5 776.3L984.8 783.7L985.2 779.9L985.5 788.8L985.8 783.3L986.2 787.9L986.8 792.8L987.5 788.0L988.2 795.5L988.8 789.9L989.5 800.0L990.1 794.2L990.8 798.6L991.5 799.6L992.1 791.7L992.8 796.5L993.4 790.4L994.1 795.2L994.8 786.3L995.4 787.9L997.9 754.0L998.6 756.5L999.3 747.9L1000.0 753.6L1000.7 744.7L1001.3 748.7L1002.0 742.7L1002.7 746.6L1003.4 738.1L1004.1 744.4L1004.8 736.4L1005.5 740.6L1006.2 735.5L1007.3 731.2L1008.5 736.1L1009.7 729.1L1010.8 732.9L1012.0 725.5L1013.1 731.8L1014.3 723.8L1015.4 724.7L1016.4 726.4L1017.3 717.6L1018.2 724.5L1019.1 716.1L1020.0 717.0L1020.4 717.7L1020.7 709.3L1021.1 716.4L1021.4 707.1L1021.8 710.8L1022.1 702.7L1022.5 708.3L1022.8 699.3L1023.2 705.5L1023.5 696.2L1023.9 701.0L1024.2 692.9L1024.6 697.8L1024.9 690.5L1025.3 696.0L1025.6 686.1L1026.0 691.0L1026.3 684.3L1026.7 688.2L1027.0 680.2L1027.4 684.8L1027.7 680.1L1028.0 676.1L1028.2 679.3L1028.4 671.2L1028.7 677.6L1028.9 669.5L1029.1 673.4L1029.4 664.3L1029.6 668.7L1029.8 660.8L1030.1 665.5L1030.3 658.0L1030.5 663.2L1030.7 654.5L1031.0 659.2L1031.2 651.6L1031.4 656.5L1031.7 648.2L1031.9 653.3L1032.1 644.8L1032.4 646.2L1033.1 650.9L1033.9 647.2L1034.7 654.4L1035.4 649.2L1036.2 656.5L1037.0 655.5L1038.3 652.4L1039.6 661.2L1040.9 654.9L1042.3 661.5L1043.6 656.7L1044.9 663.0L1046.2 661.6L1047.1 660.6L1048.0 667.4L1048.9 663.3L1049.7 670.0L1050.6 664.9L1051.5 671.7L1052.4 670.9L1053.1 668.8L1053.9 676.2L1054.7 671.6L1055.5 681.0L1056.2 675.3L1057.0 682.3L1057.8 678.4L1058.5 683.2L1059.6 687.4L1060.6 681.4L1061.6 689.4L1062.6 684.2L1063.7 694.1L1064.7 690.9L1065.9 688.0L1067.2 696.8L1068.4 691.1L1069.6 699.0L1070.8 695.5L1071.5 693.8L1072.1 703.0L1072.7 695.8L1073.3 704.1L1073.9 699.2L1074.5 709.1L1075.2 704.1L1075.8 710.7L1076.4 705.5L1077.0 710.9L1078.5 713.9L1080.1 707.9L1081.6 715.4L1083.2 709.3L1084.7 714.0L1085.5 717.9L1086.2 713.8L1087.0 722.9L1087.8 717.6L1088.6 724.3L1089.3 719.9L1090.1 727.6L1090.9 726.3L1092.4 724.8L1093.9 730.0L1095.5 725.7L1097.0 733.1L1098.6 729.4L1099.0 727.3L1099.4 737.0L1099.8 732.0L1100.2 740.0L1100.7 735.4L1101.1 742.8L1101.5 737.5L1101.9 745.7L1102.3 740.3L1102.8 749.6L1103.2 747.8L1104.1 745.7L1104.9 754.7L1105.8 749.5L1106.7 757.6L1107.6 750.8L1108.5 758.8L1109.3 757.1L1110.6 754.3L1111.8 762.2L1113.0 756.3L1114.3 765.4L1115.5 763.2L1116.5 761.6L1117.5 769.7L1118.6 764.0L1119.6 770.8L1120.6 765.8L1121.7 770.9L1123.2 773.5L1124.7 767.6L1126.3 774.7L1127.8 772.5L1128.4 770.4L1129.0 780.0L1129.7 773.6L1130.3 782.3L1130.9 777.4L1131.5 783.7L1132.1 781.1L1132.7 787.2L1133.3 782.8L1134.0 787.9L1135.2 789.7L1136.4 782.1L1137.7 788.4L1138.9 780.6L1140.1 781.7L1141.0 783.1L1142.0 775.6L1142.9 780.1L1143.8 774.7L1144.7 775.5L1146.9 741.7L1147.3 742.9L1147.7 736.0L1148.1 739.5L1148.5 732.4L1148.9 736.7L1149.2 728.1L1149.6 732.4L1150.0 724.7L1150.4 729.8L1150.8 722.5L1151.2 727.5L1151.6 718.9L1152.0 722.2L1152.4 715.9L1152.8 720.1L1153.2 710.6L1153.6 717.1L1153.9 708.4L1154.3 712.4L1154.7 706.0L1155.1 710.0L1155.5 704.7L1156.1 699.7L1156.7 704.4L1157.2 696.2L1157.8 701.4L1158.4 692.3L1158.9 698.8L1159.5 690.7L1160.1 696.0L1160.6 688.0L1161.2 691.9L1161.8 683.9L1162.3 687.9L1162.9 681.5L1163.5 686.0L1164.0 678.4L1164.6 682.2L1165.2 672.8L1165.7 677.9L1166.3 673.9L1167.8 670.4L1169.4 675.4L1170.9 670.9L1171.4 669.3L1171.9 677.8L1172.5 671.8L1173.0 680.0L1173.5 676.4L1174.0 683.6L1174.5 680.4L1175.0 688.4L1175.5 681.9L1176.0 691.3L1176.6 687.2L1177.1 690.9L1177.7 693.4L1178.3 683.9L1178.9 689.4L1179.5 680.9L1180.1 683.2L1181.1 687.6L1182.0 683.1L1182.9 689.2L1183.8 685.5L1184.8 689.3L1186.0 692.6L1187.1 688.8L1188.3 696.8L1189.5 690.3L1190.7 699.4L1191.9 692.7L1193.1 700.3L1194.2 695.4L1195.4 703.1L1196.6 697.2L1197.8 705.7L1199.0 700.9L1200.2 704.7L1201.7 709.1L1203.2 701.9L1204.8 709.6L1206.3 707.8L1207.2 704.9L1208.1 712.5L1209.0 709.1L1209.8 715.7L1210.7 710.5L1211.6 720.1L1212.5 717.0L1213.5 714.5L1214.5 722.4L1215.6 716.7L1216.6 725.0L1217.6 720.8L1218.6 724.7L1219.2 730.6L1219.9 724.2L1220.5 733.1L1221.1 727.2L1221.7 736.9L1222.3 730.8L1222.9 739.6L1223.6 733.3L1224.2 742.7L1224.8 740.1L1225.4 735.5L1226.0 740.9L1226.6 732.1L1227.3 736.8L1227.9 729.9L1228.5 734.5L1229.1 727.1L1229.7 732.1L1230.3 723.9L1230.9 724.7L1232.0 728.1L1233.0 725.0L1234.0 732.9L1235.1 727.0L1236.1 733.5L1237.1 732.4L1230.0 729.4L1231.5 726.5L1233.1 729.9L1234.6 723.3L1236.2 726.3L1236.7 731.6L1237.3 725.9L1237.8 735.2L1238.4 730.8L1239.0 738.2L1239.5 733.4L1240.1 742.1L1240.6 735.7L1241.2 745.6L1241.8 740.9L1242.3 744.8L1243.9 748.2L1245.4 738.9L1246.9 746.8L1248.5 741.7L1250.0 740.4L1251.6 746.3L1253.1 744.8L1254.2 743.8L1255.3 749.5L1256.4 744.6L1257.5 754.1L1258.6 747.8L1259.7 756.7L1260.8 754.0L1261.3 751.9L1261.9 759.8L1262.5 756.3L1263.0 762.4L1263.6 757.8L1264.1 765.8L1264.7 762.0L1265.2 769.4L1265.8 765.8L1266.3 769.4L1266.7 770.4L1267.0 763.4L1267.4 768.3L1267.7 759.9L1268.1 764.0L1268.4 755.1L1268.8 761.2L1269.1 752.1L1269.5 758.2L1269.8 750.9L1270.2 754.4L1270.5 746.6L1270.9 752.0L1271.2 743.5L1271.6 744.8L1272.5 749.8L1273.4 743.9L1274.3 751.0L1275.3 745.5L1276.2 750.9L1277.1 754.4L1278.0 749.3L1279.0 757.1L1279.9 753.8L1280.8 757.1L1281.4 758.1L1282.0 750.1L1282.5 756.9L1283.1 748.9L1283.7 752.6L1284.3 744.6L1284.8 750.3L1285.4 744.8L1287.0 742.9L1288.5 749.2L1290.0 743.7L1291.6 751.3L1293.1 747.8L1294.3 743.9L1295.6 749.7L1296.8 741.4L1298.0 745.5L1299.3 741.7L1300.2 736.7L1301.1 742.5L1302.0 735.7L1303.0 740.3L1303.9 735.5L1304.5 731.8L1305.2 736.4L1305.8 727.1L1306.5 733.3L1307.1 724.2L1307.7 729.2L1308.4 721.7L1309.0 726.2L1309.7 717.4L1310.3 722.4L1310.9 714.4L1311.6 717.0L1312.2 720.7L1312.7 717.6L1313.3 724.3L1313.9 718.9L1314.5 728.0L1315.1 723.3L1315.6 732.0L1316.2 729.4L1317.4 728.0L1318.7 735.0L1319.9 729.7L1321.1 738.2L1322.4 735.5L1323.1 730.1L1323.9 736.1L1324.7 728.0L1325.4 732.2L1326.2 725.4L1327.0 730.4L1327.8 721.1L1328.5 723.2L1330.1 726.4L1331.6 719.5L1333.1 724.5L1334.7 716.8L1336.2 720.1L1336.7 725.3L1337.2 721.2L1337.8 728.4L1338.3 722.7L1338.8 731.3L1339.3 727.9L1339.8 734.9L1340.3 730.0L1340.8 735.5L1341.7 740.9L1342.6 735.7L1343.5 741.9L1344.4 738.2L1345.2 744.9L1346.1 740.1L1347.0 744.8L1347.9 748.5L1348.8 744.6L1349.6 751.2L1350.5 745.6L1351.4 755.2L1352.3 750.4L1353.2 754.0L1353.7 756.9L1354.2 748.6L1354.7 752.3L1355.2 743.4L1355.7 750.3L1356.2 744.8L1357.8 740.9L1359.3 747.9L1360.8 742.2L1362.4 748.4L1363.9 744.8L1364.3 744.1L1364.7 750.6L1365.2 746.7L1365.6 753.4L1366.0 750.0L1366.4 758.6L1366.8 752.5L1367.2 761.2L1367.6 755.9L1368.0 764.3L1368.4 760.4L1368.9 768.0L1369.3 763.1L1369.7 771.6L1370.1 769.4L1371.6 765.9L1373.2 774.0L1374.7 768.2L1376.2 772.5L1377.1 775.0L1378.0 766.8L1378.9 771.1L1379.8 763.4L1380.6 770.1L1381.5 760.6L1382.4 763.2L1383.6 765.8L1384.7 756.8L1385.9 763.5L1387.0 758.6L1388.6 755.4L1390.1 762.5L1391.6 757.0L1393.2 760.1L1394.7 764.1L1396.3 758.7L1397.8 764.4L1399.3 761.7L1400.9 758.1L1402.4 766.2L1404.0 759.3L1405.5 763.2L1406.1 767.5L1406.6 763.5L1407.2 771.4L1407.7 766.4L1408.3 774.7L1408.9 769.6L1409.4 779.3L1410.0 774.2L1410.5 782.0L1411.1 776.1L1411.7 781.7L1413.2 784.7L1414.7 778.5L1416.3 781.7L1416.8 787.7L1417.3 782.7L1417.8 789.7L1418.3 785.4L1418.8 793.4L1419.3 786.6L1419.8 795.8L1420.3 794.0L1423.3 744.8L1424.6 741.5L1425.8 746.1L1427.0 741.7L1427.2 740.0L1427.4 748.9L1427.6 743.5L1427.8 752.1L1428.0 746.1L1428.2 755.2L1428.3 750.5L1428.5 759.6L1428.7 754.4L1428.9 762.3L1429.1 757.3L1429.3 765.9L1429.4 761.4L1429.6 769.8L1429.8 764.2L1430.0 770.9L1430.2 767.8L1430.4 775.2L1430.6 771.8L1430.7 775.5L1431.0 776.9L1431.2 769.1L1431.4 774.3L1431.7 766.0L1431.9 769.9L1432.1 763.0L1432.4 767.7L1432.6 757.8L1432.8 763.9L1433.0 756.3L1433.3 761.2L1433.5 752.5L1433.7 756.4L1434.0 749.8L1434.2 754.5L1434.4 744.8L1434.7 750.8L1434.9 742.3L1435.1 747.3L1435.4 739.6L1435.6 744.9L1435.8 736.0L1436.0 740.8L1436.3 735.5L1442.4 673.9L1443.7 671.1L1444.9 680.4L1446.1 674.5L1447.4 681.6L1448.6 680.1L1449.9 675.7L1451.2 680.4L1452.4 672.9L1453.7 678.9L1455.0 670.8L1456.3 673.9L1457.6 677.8L1458.9 673.4L1460.2 680.1L1461.5 675.6L1462.8 682.3L1464.1 679.0L1465.4 686.0L1466.7 680.7L1468.0 687.2L1469.3 683.0L1470.6 690.2L1471.9 685.1L1473.2 689.3L1473.8 694.5L1474.5 688.8L1475.1 696.9L1475.7 691.2L1476.3 701.2L1476.9 696.4L1477.5 704.2L1478.2 697.4L1478.8 707.2L1479.4 704.7L1480.3 703.7L1481.1 711.5L1482.0 705.1L1482.9 712.1L1483.8 709.3L1484.7 717.0L1485.5 714.0L1486.8 711.5L1488.0 719.1L1489.2 715.4L1490.5 721.3L1491.7 720.1L1493.0 718.5L1494.3 726.1L1495.5 720.3L1496.8 726.6L1498.1 721.0L1499.4 726.3L1500.9 730.0L1502.5 723.2L1504.0 729.6L1505.6 721.5L1507.1 724.7L1508.6 729.0L1510.2 721.6L1511.7 729.7L1513.3 721.8L1514.8 730.1L1516.3 726.3L1517.0 725.3L1517.7 733.1L1518.4 727.6L1519.1 736.3L1519.8 730.9L1520.5 739.7L1521.2 733.7L1521.9 738.6L1522.4 739.7L1522.9 732.9L1523.4 736.3L1524.0 729.2L1524.5 733.1L1525.0 726.2L1525.5 730.2L1526.1 723.0L1526.6 728.0L1527.1 723.2L1520.0 740.1L1520.3 735.1L1520.7 740.9L1521.0 733.0L1521.4 737.4L1521.7 728.4L1522.1 733.3L1522.4 724.5L1522.7 730.5L1523.1 724.7L1524.6 720.7L1526.2 725.7L1527.7 721.7L1528.5 718.8L1529.2 726.9L1530.0 722.7L1530.8 731.4L1531.5 727.3L1532.3 734.4L1533.1 728.7L1533.9 734.0L1534.2 739.9L1534.6 734.4L1534.9 743.3L1535.3 737.2L1535.6 745.4L1535.9 739.6L1536.3 747.6L1536.6 743.3L1537.0 752.3L1537.3 747.5L1537.7 756.2L1538.0 750.7L1538.4 758.5L1538.7 753.6L1539.1 758.6L1540.1 761.0L1541.1 753.0L1542.1 757.1L1543.1 752.4L1543.9 747.8L1544.6 752.8L1545.4 743.7L1546.2 749.0L1546.9 740.7L1547.7 743.2L1548.6 745.0L1549.6 737.5L1550.5 742.2L1551.4 735.0L1552.3 737.0L1553.9 741.9L1555.4 734.2L1556.9 742.2L1558.5 738.6L1559.4 737.3L1560.2 744.5L1561.1 740.4L1562.0 748.2L1562.9 742.7L1563.8 751.8L1564.6 749.4L1565.7 748.5L1566.7 755.7L1567.7 749.0L1568.7 757.9L1569.8 753.6L1570.8 757.1L1571.7 758.3L1572.6 751.9L1573.6 754.9L1574.5 746.6L1575.4 749.4L1577.0 753.3L1578.5 746.5L1580.0 754.5L1581.6 750.9L1582.6 747.9L1583.6 757.0L1584.7 751.2L1585.7 759.6L1586.7 753.6L1587.7 758.6L1588.5 760.6L1589.3 751.8L1590.0 756.5L1590.8 748.8L1591.6 754.1L1592.4 749.4L1593.3 744.2L1594.2 749.2L1595.1 743.2L1596.0 746.6L1597.0 743.2L1597.2 740.8L1597.5 750.6L1597.7 744.2L1598.0 752.3L1598.3 746.8L1598.5 752.4 M1624.1 758.6L1625.1 754.2L1626.1 757.9L1627.1 754.0L1627.5 752.1L1627.9 759.6L1628.3 755.8L1628.7 763.8L1629.1 760.5L1629.5 767.6L1629.8 764.0L1630.2 767.8L1630.7 772.5L1631.3 768.7L1631.8 774.7L1632.3 770.9L1632.9 779.6L1633.4 774.7L1633.9 778.6L1634.4 779.6L1634.8 772.0L1635.2 778.4L1635.7 769.0L1636.1 773.9L1636.6 764.9L1637.0 767.8L1638.2 768.7L1639.5 761.2L1640.7 766.9L1641.9 760.5L1643.2 761.7L1644.4 762.8L1645.6 756.4L1646.8 762.0L1648.1 754.3L1649.3 755.5L1650.5 760.2L1651.8 754.4L1653.0 762.2L1654.2 757.1L1655.5 761.7L1656.4 765.4L1657.3 762.6L1658.2 768.8L1659.2 764.1L1660.1 769.4L1661.6 771.5L1663.2 764.7L1664.7 770.1L1666.2 762.5L1667.8 764.8L1669.3 766.9L1670.9 759.5L1672.4 766.7L1673.9 759.7L1675.5 761.7L1677.0 765.9L1678.6 759.9L1680.1 768.2L1681.6 764.8L1683.2 761.9L1684.7 769.5L1686.3 767.8L1687.5 762.2L1688.7 767.7L1690.0 761.1L1691.2 766.8L1692.4 761.7L1694.0 760.0L1695.5 766.4L1697.0 761.9L1698.6 764.8L1700.7 817.1L1701.0 894.1L1701.3 817.1L1702.9 755.5L1703.4 760.7L1704.0 754.7L1704.6 763.6L1705.1 757.5L1705.7 766.0L1706.3 764.8L1707.8 761.5L1709.3 769.3L1710.9 766.3L1711.8 764.1L1712.7 771.9L1713.7 765.9L1714.6 775.6L1715.5 772.5L1715.8 767.6L1716.1 772.7L1716.4 765.2L1716.7 769.4L1717.0 760.4L1717.4 766.8L1717.7 756.5L1718.0 761.6L1718.3 754.2L1718.6 755.5L1719.2 757.7L1719.7 750.4L1720.3 754.1L1720.9 746.9L1721.5 750.1L1722.0 744.1L1722.6 748.7L1723.2 743.2L1723.7 739.1L1724.2 742.4L1724.7 735.1L1725.3 740.5L1725.8 732.4L1726.3 736.1L1726.8 727.8L1727.3 733.7L1727.8 727.8L1728.3 722.1L1728.8 728.7L1729.4 720.3L1729.9 724.4L1730.4 716.8L1730.9 722.3L1731.4 712.1L1731.9 717.3L1732.4 710.8L1733.0 714.3L1733.5 707.5L1734.0 711.7L1734.5 703.4L1735.0 707.9L1735.5 701.6L1736.0 705.1L1736.5 697.5L1737.1 702.2L1737.6 692.8L1738.1 699.3L1738.6 693.9L1739.4 689.1L1740.1 694.4L1740.9 685.6L1741.7 689.9L1742.4 682.0L1743.2 688.7L1744.0 679.0L1744.8 685.6L1745.5 677.1L1746.3 681.6L1747.1 674.7L1747.8 679.1L1748.6 671.7L1749.4 674.6L1750.1 668.3L1750.9 669.3L1752.1 673.0L1753.4 668.9L1754.6 675.2L1755.8 672.2L1757.1 675.5L1758.6 677.9L1760.1 673.2L1761.7 678.4L1763.2 675.5L1764.5 674.6L1765.7 682.1L1766.9 675.6L1768.2 682.8L1769.4 681.6L1769.8 680.7L1770.2 687.9L1770.6 683.7L1771.1 690.7L1771.5 685.9L1771.9 696.2L1772.3 690.2L1772.7 698.3L1773.2 694.5L1773.6 700.7L1774.0 700.1L1775.1 695.9L1776.2 700.1L1777.3 692.1L1778.4 697.2L1779.5 691.4L1780.6 696.6L1781.7 690.9L1782.5 689.1L1783.2 696.3L1784.0 692.1L1784.8 699.1L1785.5 695.2L1786.3 704.5L1787.1 697.5L1787.9 703.2L1789.4 706.9L1790.9 700.5L1792.5 706.1L1794.0 700.7L1795.6 703.2L1797.1 708.0L1798.6 701.7L1800.2 709.9L1801.7 704.0L1803.3 707.8L1804.5 711.7L1805.8 706.3L1807.1 716.1L1808.4 708.8L1809.7 718.2L1810.9 715.5L1812.2 712.7L1813.4 721.8L1814.6 716.6L1815.9 723.7L1817.1 721.7L1818.6 717.7L1820.2 721.7L1821.7 716.4L1823.2 717.5L1824.7 721.0L1826.2 716.3L1827.6 719.7L1828.7 724.6L1829.9 717.5L1831.0 726.2L1832.1 724.1L1832.6 721.5L1833.2 731.9L1833.7 724.7L1834.3 730.8L1835.1 732.1L1835.9 724.9L1836.8 728.4L1837.6 724.1L1839.1 722.0L1840.6 727.4L1842.0 725.3L1842.7 723.2L1843.4 732.6L1844.0 725.8L1844.7 734.7L1845.4 733.0L1845.9 730.8L1846.5 740.0L1847.0 735.2L1847.6 742.6L1848.1 736.1L1848.7 741.9L1849.2 747.3L1849.8 740.9L1850.4 749.5L1850.9 745.3L1851.5 753.2L1852.0 750.7L1852.8 749.3L1853.7 757.5L1854.5 750.5L1855.3 756.3L1856.4 758.7L1857.6 755.2L1858.7 735.2L1859.1 730.4L1859.5 736.0L1860.0 726.1L1860.4 730.6L1860.9 726.4L1861.7 725.7L1862.5 732.1L1863.4 727.1L1864.2 733.0L1864.6 735.3L1864.9 727.2L1865.3 731.9L1865.7 721.7L1866.0 728.0L1866.4 719.8L1866.8 724.3L1867.2 716.9L1867.5 717.5L1869.2 719.6L1870.8 717.5L1871.2 714.7L1871.5 724.3L1871.8 718.9L1872.1 728.2L1872.4 722.3L1872.7 731.2L1873.1 728.6L1873.4 722.8L1873.8 727.7L1874.2 720.8L1874.5 724.4L1874.9 717.3L1875.3 721.7L1875.6 713.8L1876.0 717.8L1876.4 713.1L1877.5 709.6L1878.6 715.1L1879.7 706.8L1880.8 708.6"/>
<path stroke="#00ffff" d="M368.9 720.4L369.1 720.0L369.3 726.5L369.5 723.1L369.7 730.0L369.9 726.0L370.2 732.3L370.4 730.6L370.6 737.2L370.8 733.5L371.0 739.4L371.2 735.4L371.5 743.3L371.7 739.1L371.9 746.7L372.1 742.9L372.3 747.5L372.8 751.0L373.2 747.7L373.7 755.5L374.1 751.1L374.6 758.4L375.0 753.9L375.5 760.2L375.9 756.9L376.3 764.4L376.8 760.9L377.2 764.7L378.0 767.9L378.8 764.5L379.6 771.9L380.3 767.8L381.1 775.8L381.9 770.9L382.6 778.9L383.4 777.0L384.4 773.4L385.5 777.8L386.5 770.8L387.6 772.1L387.9 777.2L388.2 772.0L388.5 778.9L388.8 776.8L389.1 782.4L389.4 778.4L389.7 786.1L390.0 782.4L390.2 789.1L390.5 785.9L390.8 792.6L391.1 789.5L391.4 796.2L391.7 792.3L392.0 796.7L392.6 801.8L393.1 797.1L393.7 805.1L394.2 800.0L394.8 808.5L395.3 803.7L395.9 810.2L396.4 806.6L396.9 811.5L398.2 814.1L399.4 806.1L400.6 811.3L401.9 804.6L403.1 806.6L404.3 828.8L405.6 829.6L406.8 826.3L407.0 824.7L407.3 832.3L407.5 829.0L407.8 834.6L408.0 831.2L408.3 839.7L408.5 836.0L408.8 842.6L409.0 838.7L409.3 844.6L409.5 842.2L409.8 849.2L410.0 844.3L410.2 851.0L410.5 850.9L411.1 849.6L411.7 855.7L412.3 852.5L413.0 859.4L413.6 855.3L414.2 863.7L414.8 859.1L415.4 863.3L416.3 865.6L417.3 858.6L418.2 861.3L419.1 858.3L421.6 897.7L423.2 895.7L424.9 901.1L426.5 900.2L429.0 850.9L430.2 850.2L431.4 853.4L433.9 897.7L434.5 901.7L435.1 898.0L435.7 904.3L436.4 902.2L437.0 908.8L437.6 904.7L438.2 912.0L438.8 910.0L439.5 908.2L440.2 915.6L440.9 912.3L441.6 919.0L442.3 915.1L443.0 922.3L443.7 921.1L445.0 917.2L446.2 921.5L447.4 917.4L448.7 846.0L449.5 840.9L450.3 845.3L451.1 841.1L452.4 777.0L454.8 727.8L456.1 710.5L457.7 708.5L459.3 714.4L461.0 711.8L461.4 711.4L461.9 717.3L462.3 713.3L462.8 721.1L463.2 717.5L463.7 723.5L464.1 721.1L464.6 728.0L465.0 725.2L465.5 731.4L465.9 730.2L466.7 725.7L467.6 728.7L468.4 725.3L468.9 634.2L469.1 629.7L469.3 633.4L469.5 626.3L469.7 629.9L470.0 623.0L470.2 627.4L470.4 621.0L470.6 622.8L470.8 619.4L472.1 641.6L473.3 695.8L474.3 694.3L475.3 702.2L476.3 698.1L477.2 704.2L478.2 703.2L479.0 702.0L479.9 708.7L480.7 705.7L481.5 712.0L482.3 709.0L483.2 713.0L484.0 717.4L484.8 714.1L485.6 720.3L486.4 716.4L487.3 722.9L488.1 722.9L489.0 721.5L489.8 728.7L490.7 724.8L491.6 730.5L492.5 726.7L493.4 733.4L494.2 732.7L495.5 731.9L496.7 737.7L497.9 733.4L499.2 737.6L500.4 752.4L501.2 755.9L502.0 753.4L502.9 759.6L503.7 755.7L504.5 763.1L505.3 762.3L505.6 760.6L506.0 767.5L506.3 764.9L506.6 771.7L507.0 767.1L507.3 774.6L507.6 771.7L507.9 777.3L508.3 774.4L508.6 780.7L508.9 777.1L509.3 785.3L509.6 781.6L509.9 787.4L510.2 786.9L511.1 782.0L511.9 786.5L512.7 778.8L513.5 782.6L514.4 776.8L515.2 777.0L515.5 780.9L515.8 777.1L516.2 784.1L516.5 781.3L516.8 787.7L517.1 784.4L517.5 791.0L517.8 786.7L518.1 793.8L518.5 791.8L518.8 798.6L519.1 793.4L519.4 802.0L519.8 797.6L520.1 801.7L520.8 806.7L521.6 801.2L522.3 808.2L523.1 804.5L523.8 812.3L524.5 807.6L525.3 814.7L526.0 811.3L526.7 817.3L527.5 816.5L527.9 816.0L528.4 821.3L528.8 818.4L529.3 824.9L529.7 821.1L530.2 827.6L530.6 824.0L531.1 832.0L531.5 827.1L532.0 835.5L532.4 833.7L532.9 831.9L533.3 839.6L533.8 836.8L534.2 843.1L534.7 839.6L535.1 845.3L535.5 841.7L536.0 848.9L536.4 845.4L536.9 852.8L537.3 850.9L537.8 849.7L538.2 856.5L538.6 853.7L539.0 860.8L539.4 856.6L539.8 864.0L540.2 860.1L540.6 866.1L541.0 863.0L541.4 870.6L541.9 867.0L542.3 870.6L542.7 875.5L543.1 870.5L543.5 878.8L543.9 874.0L544.3 880.5L544.7 877.6L545.1 885.5L545.6 882.1L546.0 887.6L546.4 884.9L546.8 891.4L547.2 890.3L547.8 889.4L548.4 896.0L549.0 891.8L549.7 898.1L550.3 896.3L550.9 901.5L551.5 899.3L552.1 902.7L552.6 906.0L553.0 902.2L553.5 910.6L554.0 907.0L554.4 913.0L554.9 909.7L555.4 915.7L555.8 915.0L557.0 949.5L557.8 948.6L558.5 955.3L559.3 951.1L560.0 957.7L560.7 956.8L561.2 953.4L561.7 956.2L562.2 950.5L562.7 953.7L563.2 949.5L564.4 841.1L565.0 836.8L565.7 838.6L569.4 919.9L570.0 923.9L570.6 921.4L571.2 926.8L571.8 924.1L572.4 930.9L573.1 929.8L573.5 925.0L574.0 929.0L574.4 921.9L574.9 926.4L575.4 919.6L575.8 922.9L576.3 916.4L576.7 917.4L578.0 921.7L579.2 917.4L580.4 924.1L581.7 922.4L582.9 831.2L583.3 827.1L583.7 830.1L584.1 823.6L584.5 827.7L585.0 821.3L585.4 823.8L585.8 817.3L586.2 821.5L586.6 816.5L589.1 865.7L589.8 860.8L590.5 865.1L591.3 857.9L592.0 863.0L592.8 858.3L594.0 725.3L595.2 721.9L596.5 722.9L597.7 796.7L600.1 703.2L600.3 704.0L600.5 698.0L600.6 701.5L600.8 693.7L601.0 698.3L601.1 690.1L601.3 694.6L601.5 686.9L601.6 691.1L601.8 684.9L602.0 687.9L602.1 681.8L602.3 683.7L602.4 677.0L602.6 678.5L605.1 722.9L606.0 725.8L606.9 723.5L607.8 728.4L608.8 727.8L611.2 703.2L613.7 666.2L616.2 708.1L618.6 737.6L621.1 703.2L622.3 699.8L623.5 703.2L623.7 706.8L623.9 704.8L624.0 711.4L624.2 707.9L624.4 714.7L624.5 710.1L624.7 717.9L624.9 712.8L625.0 720.7L625.2 716.4L625.4 722.9L625.5 719.7L625.7 727.1L625.8 723.1L626.0 727.8L626.4 731.3L626.8 728.0L627.2 736.2L627.7 732.6L628.1 738.3L628.5 734.9L628.9 742.5L629.3 738.8L629.7 744.5L630.1 742.1L630.5 748.7L630.9 747.5L631.4 745.9L631.9 753.0L632.3 749.8L632.8 756.1L633.2 752.9L633.7 759.2L634.2 756.5L634.6 759.8L636.2 762.4L637.7 756.3L639.2 762.2L640.8 759.8L641.4 758.2L642.0 764.8L642.6 761.4L643.3 769.1L643.9 764.5L644.5 771.7L645.1 768.0L645.7 772.1L646.1 776.7L646.5 772.0L646.9 779.0L647.4 776.9L647.8 783.4L648.2 778.5L648.6 786.3L649.0 782.8L649.4 789.9L649.8 786.6L650.2 792.3L650.6 791.8L651.6 788.2L652.5 788.6 M659.9 799.7L660.6 799.2L661.3 805.6L662.0 802.1L662.7 808.9L663.4 804.8L664.1 811.0L664.8 810.8L665.6 810.8L666.4 817.4L667.2 813.6L668.1 819.4L668.9 815.4L669.7 820.6L670.9 824.4L672.2 819.8L673.4 826.9L674.6 825.6L675.9 847.7L677.5 844.8L679.1 849.7L680.8 847.7L682.0 823.1L683.3 821.0L684.5 828.1L685.7 825.6L686.9 882.2L688.2 880.8L689.4 884.7L690.6 810.8L691.5 813.9L692.4 810.8L693.8 869.9L694.3 868.6L694.8 874.9L695.2 871.7L695.7 879.3L696.2 875.9L696.6 881.4L697.1 878.1L697.6 885.6L698.0 884.7L700.5 911.8L700.7 907.1L700.8 911.8L701.0 903.8L701.1 908.6L701.3 901.2L701.5 905.1L701.6 897.8L701.8 902.1L702.0 893.6L702.1 897.2L702.3 891.8L702.5 894.1L702.6 886.9L702.8 891.3L703.0 887.1L704.2 883.5L705.4 887.7L706.7 884.7L710.3 924.1L711.6 922.7L712.8 926.6L713.5 825.6L714.4 828.0L715.3 825.6L717.0 899.5L717.6 898.6L718.3 905.2L718.9 901.1L719.6 908.8L720.2 906.8L720.7 902.4L721.2 907.4L721.7 899.1L722.2 904.5L722.7 899.5L723.4 744.3L724.3 740.1L725.1 741.8L727.6 800.9L727.9 801.1L728.3 794.1L728.6 799.2L729.0 790.5L729.3 794.9L729.7 787.3L730.0 788.6L732.5 764.0L732.9 764.3L733.2 757.2L733.6 761.5L733.9 754.8L734.3 756.9L734.6 750.1L735.0 751.7L737.4 702.4L739.9 640.8L741.1 645.6L742.4 643.3L743.6 712.3L744.8 603.9L745.0 600.5L745.2 603.8L745.3 596.5L745.5 599.2L745.6 593.5L745.8 597.2L746.0 589.0L746.1 592.5L746.3 586.3L746.5 589.2L746.6 582.8L746.8 586.5L747.0 579.2L747.1 584.5L747.3 579.3L749.8 552.2L751.6 548.9L753.4 550.9L755.9 594.0L758.4 554.6L759.2 559.9L760.0 555.7L760.8 559.6L762.1 584.2L762.6 587.4L763.1 584.3L763.5 590.3L764.0 588.1L764.5 591.6L765.8 611.3L766.0 615.4L766.3 611.9L766.5 618.4L766.7 616.5L767.0 623.2L767.2 619.4L767.5 626.9L767.7 621.7L768.0 629.2L768.2 628.5L768.5 627.6L768.8 634.5L769.0 630.6L769.3 637.9L769.6 634.0L769.9 641.2L770.1 636.5L770.4 644.3L770.7 643.3L771.3 642.5L771.9 649.6L772.5 646.1L773.2 652.1L773.8 648.0L774.4 653.2L774.8 654.2L775.2 647.2L775.6 649.9L776.0 644.1L776.4 647.7L776.8 643.3L778.1 628.5L778.9 628.1L779.8 631.0L780.5 658.1L780.7 662.6L780.9 658.5L781.0 664.7L781.2 661.8L781.4 668.8L781.5 665.0L781.7 671.9L781.9 668.2L782.0 675.9L782.2 672.8L782.3 677.9L782.5 674.8L782.7 683.0L782.8 679.0L783.0 682.7L783.2 686.9L783.4 683.2L783.6 689.9L783.8 686.9L784.0 693.2L784.2 690.2L784.4 697.0L784.6 693.6L784.9 699.9L785.1 696.0L785.3 702.4L785.5 702.4L785.9 701.3L786.3 708.8L786.7 705.1L787.1 711.0L787.5 707.4L787.9 714.4L788.3 711.9L788.8 718.0L789.2 717.2L789.5 715.9L789.9 722.5L790.3 720.1L790.6 726.4L791.0 722.5L791.4 730.0L791.7 725.9L792.1 732.9L792.5 730.4L792.9 734.4L793.7 739.0L794.5 734.3L795.3 741.9L796.1 738.9L797.0 744.5L797.8 744.3L798.2 743.3L798.6 749.6L799.0 746.0L799.4 754.1L799.8 750.5L800.2 756.3L800.7 752.6L801.1 760.3L801.5 755.8L801.9 763.0L802.3 760.5L802.7 764.0L803.2 767.8L803.6 763.9L804.1 770.8L804.5 768.0L804.9 774.3L805.4 770.9L805.8 777.4L806.3 773.1L806.7 780.0L807.2 778.0L807.6 781.2L808.0 786.4L808.5 781.2L808.9 789.7L809.3 785.3L809.7 792.9L810.1 787.6L810.5 794.8L810.9 791.3L811.3 799.3L811.7 794.7L812.2 801.9L812.6 800.9L813.2 800.3L813.8 806.3L814.4 803.5L815.0 808.8L815.6 805.8L816.3 812.4L816.9 808.5L817.5 813.3L817.9 816.6L818.3 813.1L818.7 821.2L819.1 816.4L819.5 824.9L820.0 819.7L820.4 827.5L820.8 824.7L821.2 831.1L821.6 827.7L822.0 833.5L822.4 833.0L822.9 831.6L823.3 838.7L823.8 835.2L824.2 842.7L824.7 838.0L825.1 844.7L825.5 841.8L826.0 848.8L826.4 844.5L826.9 851.8L827.3 850.2L828.6 848.9L829.8 854.2L831.0 850.5L832.3 857.4L833.5 855.1L833.8 854.8L834.0 861.6L834.3 856.6L834.6 864.9L834.9 860.1L835.1 866.6L835.4 863.8L835.7 871.6L836.0 869.9L837.2 884.7L837.6 884.7L837.9 890.2L838.3 887.6L838.7 894.2L839.1 890.7L839.5 897.5L839.8 893.5L840.2 899.9L840.6 898.3L841.0 903.6L841.4 901.6L841.7 906.9L842.1 906.8L842.4 905.0L842.6 913.6L842.9 910.2L843.1 916.4L843.3 913.2L843.6 919.4L843.8 916.6L844.1 923.5L844.3 919.6L844.6 924.1L844.7 924.8L844.9 918.8L845.1 921.4L845.2 915.7L845.4 918.6L845.6 911.2L845.7 915.0L845.9 909.2L846.1 911.3L846.2 905.3L846.4 908.8L846.6 901.2L846.7 905.1L846.9 897.9L847.0 899.5L847.3 900.6L847.5 893.6L847.7 896.7L848.0 890.1L848.2 894.0L848.4 886.8L848.7 890.6L848.9 883.4L849.1 886.3L849.4 879.8L849.6 883.8L849.8 877.4L850.0 879.9L850.3 873.3L850.5 877.4L850.7 872.4L853.2 899.5L853.5 894.3L853.8 898.5L854.1 891.1L854.4 896.1L854.7 889.1L855.0 892.1L855.4 886.1L855.7 889.6L856.0 881.7L856.3 886.4L856.6 878.2L856.9 879.8L859.4 914.2L860.2 918.8L861.0 914.4L861.8 921.9L862.6 919.0L863.5 925.2L864.3 924.1L865.8 923.1L867.4 927.2L868.9 922.8L870.4 926.6L871.7 776.3L872.9 724.6L874.1 727.5L875.4 727.0L877.8 771.4L878.0 767.9L878.2 769.9L878.4 763.1L878.7 766.8L878.9 761.5L879.1 764.8L879.3 758.0L879.5 761.5L879.7 753.6L879.9 758.2L880.1 749.8L880.3 751.7L881.5 690.1L882.8 692.2L884.0 688.9L884.3 687.4L884.6 693.9L884.9 690.8L885.2 698.3L885.5 694.3L885.8 700.9L886.1 697.6L886.5 702.4L888.9 739.4L889.2 744.6L889.4 741.1L889.7 746.8L889.9 743.5L890.1 751.2L890.4 747.6L890.6 753.4L890.9 751.0L891.1 757.7L891.4 756.6L891.7 755.2L892.1 762.5L892.4 759.5L892.8 766.0L893.1 763.1L893.5 769.6L893.8 768.9L894.1 768.9L894.3 775.0L894.6 770.5L894.8 778.3L895.1 774.4L895.3 781.2L895.6 778.0L895.8 785.8L896.1 781.5L896.3 786.2L896.9 790.2L897.5 786.5L898.2 793.4L898.8 788.5L899.4 795.3L900.0 794.8L901.7 734.4L902.7 732.6L903.7 734.4L905.7 778.8L907.1 781.9L908.6 778.8L908.8 773.6L909.0 778.0L909.2 771.2L909.4 775.0L909.6 768.3L909.8 770.7L909.9 764.8L910.1 767.9L910.3 761.2L910.5 763.8L910.7 757.0L910.9 761.8L911.1 756.6L912.9 754.4L914.8 756.6L915.0 761.3L915.2 757.4L915.4 764.8L915.6 760.4L915.8 767.0L916.0 764.4L916.2 769.8L916.4 767.2L916.6 773.8L916.8 771.1L917.0 777.0L917.2 776.3L917.7 775.6L918.2 782.5L918.6 779.0L919.1 786.0L919.6 781.4L920.0 788.3L920.5 784.5L920.9 788.6L921.6 793.4L922.2 788.5L922.8 796.0L923.4 792.2L924.0 799.4L924.6 794.5L925.2 801.8L925.9 800.9L926.4 799.5L927.0 807.7L927.5 803.3L928.1 809.6L928.6 807.1L929.1 813.8L929.7 809.5L930.2 817.6L930.8 815.7L932.0 811.6L933.3 816.2L934.5 813.3L934.7 812.9L934.9 818.7L935.1 816.2L935.3 822.8L935.5 818.1L935.7 826.5L935.9 822.6L936.1 829.7L936.3 825.8L936.5 832.1L936.7 828.3L936.9 833.0L937.4 836.3L937.8 834.3L938.3 840.9L938.7 837.0L939.2 843.1L939.6 839.6L940.1 846.9L940.5 843.9L941.0 849.3L941.4 846.1L941.9 850.2L942.2 854.5L942.6 851.6L943.0 858.1L943.3 853.6L943.7 861.2L944.1 857.8L944.5 864.1L944.8 861.8L945.2 868.7L945.6 867.4L944.6 858.7L945.4 858.4L946.2 865.1L946.9 859.9L947.7 866.6L948.5 862.9L949.2 870.3L950.0 866.3L950.8 871.0L951.1 875.7L951.4 872.1L951.7 878.9L952.0 874.6L952.3 882.4L952.6 878.7L952.9 885.6L953.2 880.6L953.5 888.7L953.9 884.7L954.2 890.9L954.5 888.1L954.8 894.6L955.1 890.9L955.4 895.6L956.6 899.8L957.9 895.3L959.1 901.3L960.3 897.6L961.6 901.8L961.9 906.4L962.2 903.2L962.6 910.3L962.9 905.7L963.3 912.2L963.6 908.6L963.9 915.6L964.3 913.2L964.6 917.2L965.4 921.8L966.2 917.4L966.9 924.5L967.7 920.4L968.5 927.4L969.2 924.2L970.0 929.9L970.8 929.5L972.3 944.9L973.6 944.4L974.8 950.4L976.0 945.5L977.3 952.5L978.5 951.0L980.0 947.9L981.6 953.4L983.1 951.0L984.6 975.7L985.0 975.2L985.3 981.3L985.6 977.2L985.9 983.9L986.2 981.3L986.5 987.6L986.8 984.0L987.1 991.1L987.4 988.2L987.7 994.5L988.0 991.0L988.3 998.5L988.6 994.7L989.0 1002.0L989.3 1000.3L989.9 1000.0L990.5 1005.5L991.1 1003.1L991.7 1008.3L992.3 1008.0L992.8 1003.3L993.3 1008.0L993.8 1001.4L994.3 1003.8L994.8 1000.3L996.0 907.9L997.9 846.4L1000.0 901.8L1002.5 827.9L1003.1 735.5L1003.9 731.5L1004.7 735.5L1005.4 727.7L1006.2 729.4L1007.0 734.0L1007.7 729.6L1008.5 735.9L1009.3 735.5L1010.2 707.8L1010.8 706.9L1011.4 712.9L1012.0 709.8L1012.7 716.7L1013.3 713.5L1013.9 717.0L1014.8 717.9L1015.7 711.4L1016.7 715.0L1017.6 708.9L1018.5 710.9L1020.7 673.9L1021.6 581.6L1023.7 550.8L1025.0 552.6L1026.2 547.7L1028.7 590.8L1030.8 560.0L1031.9 558.1L1033.0 563.1L1033.9 600.0L1034.2 604.1L1034.5 600.6L1034.8 607.7L1035.1 603.7L1035.4 611.8L1035.8 606.9L1036.1 613.8L1036.4 609.9L1036.7 617.4L1037.0 613.7L1037.3 621.2L1037.6 618.1L1037.9 624.5L1038.2 620.1L1038.5 624.7L1041.6 655.5L1042.0 659.7L1042.4 656.2L1042.9 663.0L1043.3 660.2L1043.7 666.5L1044.1 663.9L1044.5 669.8L1045.0 666.0L1045.4 673.1L1045.8 669.5L1046.2 673.9L1046.5 679.1L1046.8 673.8L1047.1 680.8L1047.5 677.3L1047.8 685.0L1048.1 682.1L1048.4 687.8L1048.7 685.0L1049.0 690.5L1049.3 687.7L1049.6 695.5L1049.9 691.4L1050.2 698.6L1050.5 693.9L1050.8 698.6L1051.4 702.1L1052.0 698.6L1052.5 706.4L1053.1 701.8L1053.6 710.0L1054.2 705.6L1054.8 712.6L1055.3 708.8L1055.9 717.2L1056.4 712.0L1057.0 717.0L1057.4 721.2L1057.8 717.3L1058.3 724.7L1058.7 721.9L1059.1 727.1L1059.5 725.3L1059.9 730.8L1060.4 728.5L1060.8 734.8L1061.2 730.8L1061.6 735.5L1062.0 739.9L1062.5 736.4L1062.9 743.5L1063.3 740.0L1063.7 746.5L1064.1 742.5L1064.6 749.7L1065.0 747.0L1065.4 754.0L1065.8 749.3L1066.2 754.0L1066.7 758.0L1067.2 755.0L1067.7 761.6L1068.1 757.8L1068.6 764.3L1069.1 762.3L1069.5 767.6L1070.0 764.1L1070.5 770.8L1071.0 768.0L1071.4 774.2L1071.9 771.8L1072.4 775.5L1072.9 779.2L1073.3 776.4L1073.8 782.5L1074.3 780.5L1074.8 785.7L1075.2 783.5L1075.7 789.7L1076.2 787.1L1076.7 792.1L1077.1 789.6L1077.6 796.2L1078.1 792.4L1078.5 797.1L1079.0 800.5L1079.4 798.0L1079.8 804.5L1080.2 802.1L1080.6 809.0L1081.1 805.1L1081.5 810.7L1081.9 808.0L1082.3 814.2L1082.7 811.0L1083.2 815.6L1083.5 819.5L1083.9 817.0L1084.2 822.3L1084.6 819.1L1084.9 826.0L1085.3 822.3L1085.7 829.7L1086.0 825.4L1086.4 832.7L1086.7 830.0L1087.1 835.9L1087.4 832.2L1087.8 837.1L1088.1 841.6L1088.5 838.1L1088.8 843.9L1089.2 840.8L1089.6 848.9L1089.9 844.3L1090.3 850.4L1090.6 848.7L1091.0 853.8L1091.3 851.7L1091.7 857.0L1092.0 855.3L1092.4 858.7L1092.8 863.3L1093.1 858.6L1093.5 865.7L1093.9 861.8L1094.2 869.6L1094.6 865.5L1094.9 873.9L1095.3 868.6L1095.7 875.5L1096.0 873.2L1096.4 877.1L1096.7 878.3L1097.0 870.3L1097.3 874.0L1097.5 868.3L1097.8 872.2L1098.1 865.3L1098.4 867.9L1098.7 861.6L1099.0 865.2L1099.2 857.1L1099.5 860.9L1099.8 854.2L1100.1 855.6L1100.3 860.4L1100.5 855.8L1100.7 863.5L1100.9 859.1L1101.1 866.6L1101.3 863.5L1101.4 869.8L1101.6 866.3L1101.8 873.7L1102.0 870.8L1102.2 876.6L1102.4 873.3L1102.6 880.9L1102.8 876.8L1103.0 884.0L1103.2 883.3L1103.6 882.4L1104.0 888.6L1104.4 885.3L1104.9 891.7L1105.3 889.2L1105.7 896.5L1106.1 892.1L1106.5 898.5L1107.0 896.3L1107.4 903.4L1107.8 901.8L1108.2 900.5L1108.5 908.4L1108.9 903.4L1109.2 910.9L1109.6 906.7L1109.9 914.8L1110.3 911.1L1110.6 917.4L1111.0 914.9L1111.3 920.8L1111.7 916.5L1112.1 923.5L1112.4 923.3L1113.0 922.1L1113.6 928.2L1114.1 926.2L1114.7 932.4L1115.3 928.9L1115.9 934.3L1116.5 932.2L1117.0 935.6L1117.3 940.3L1117.6 936.4L1118.0 942.6L1118.3 940.6L1118.6 948.0L1118.9 944.1L1119.2 948.0L1121.7 898.7L1124.1 948.0L1124.3 949.0L1124.5 942.1L1124.7 946.0L1124.9 938.3L1125.1 942.6L1125.3 935.0L1125.6 938.0L1125.8 932.3L1126.0 934.3L1126.2 927.6L1126.4 931.0L1126.6 925.8L1126.8 929.3L1127.0 922.0L1127.2 925.7L1127.4 918.8L1127.6 921.4L1127.8 917.2L1130.9 948.0L1132.4 946.4L1134.0 952.2L1135.5 949.5L1137.0 886.4L1140.1 920.2L1143.2 889.5L1145.7 843.3L1145.9 838.7L1146.0 842.7L1146.2 835.0L1146.4 839.7L1146.6 832.3L1146.8 835.7L1147.0 828.7L1147.2 831.3L1147.4 824.4L1147.6 828.8L1147.8 821.0L1148.0 824.5L1148.2 818.1L1148.4 821.6L1148.6 814.2L1148.7 815.6L1150.9 704.7L1154.0 741.7L1154.3 745.1L1154.5 742.7L1154.8 749.3L1155.1 746.6L1155.4 752.8L1155.7 748.7L1155.9 755.9L1156.2 752.2L1156.5 759.6L1156.8 756.4L1157.1 760.1L1159.2 704.7L1161.1 603.1L1161.4 607.0L1161.8 602.6L1162.1 610.0L1162.5 606.8L1162.9 612.6L1163.2 612.4L1164.8 567.7L1166.3 627.8L1169.4 590.8L1171.5 621.6L1172.0 621.3L1172.4 627.0L1172.9 623.3L1173.3 631.5L1173.8 626.8L1174.2 635.4L1174.6 630.7L1175.1 638.7L1175.5 637.0L1176.0 636.0L1176.6 642.9L1177.1 638.6L1177.6 647.2L1178.1 642.0L1178.6 649.8L1179.1 645.8L1179.6 653.1L1180.1 652.4L1180.6 650.5L1181.0 659.2L1181.4 655.2L1181.8 662.6L1182.2 658.8L1182.7 664.3L1183.1 661.1L1183.5 668.0L1183.9 664.9L1184.3 672.1L1184.8 670.9L1185.1 670.8L1185.5 677.3L1185.8 673.7L1186.2 680.0L1186.5 676.8L1186.9 683.9L1187.3 679.4L1187.6 686.3L1188.0 684.0L1188.3 689.7L1188.7 686.7L1189.0 692.5L1189.4 692.4L1190.0 692.0L1190.5 698.6L1191.1 694.0L1191.7 702.1L1192.3 696.6L1192.8 705.0L1193.4 700.8L1194.0 704.7L1194.4 708.3L1194.8 705.9L1195.3 712.3L1195.7 708.8L1196.1 715.8L1196.5 712.5L1196.9 719.8L1197.4 716.0L1197.8 722.4L1198.2 718.1L1198.6 723.2L1199.1 728.1L1199.6 724.3L1200.0 730.3L1200.5 726.6L1201.0 733.1L1201.5 731.3L1201.9 737.5L1202.4 733.8L1202.9 740.1L1203.4 738.1L1203.8 743.5L1204.3 740.0L1204.8 744.8L1205.1 748.9L1205.4 744.5L1205.7 752.9L1206.0 747.8L1206.3 754.7L1206.6 752.6L1206.9 757.9L1207.2 755.4L1207.5 761.8L1207.9 759.5L1208.2 765.5L1208.5 762.7L1208.8 768.3L1209.1 765.6L1209.4 769.4L1210.2 774.1L1210.9 770.0L1211.7 776.1L1212.5 773.8L1213.2 779.6L1214.0 778.6L1214.4 777.4L1214.9 784.9L1215.3 780.2L1215.7 788.6L1216.1 784.9L1216.5 790.6L1217.0 787.3L1217.4 795.2L1217.8 791.1L1218.2 798.7L1218.6 797.1L1219.1 796.1L1219.7 802.7L1220.2 800.3L1220.7 805.6L1221.2 802.8L1221.7 810.8L1222.2 805.7L1222.7 813.3L1223.3 812.5L1223.9 811.1L1224.5 819.0L1225.1 813.9L1225.7 821.5L1226.3 817.7L1226.9 824.4L1227.6 821.3L1228.2 826.8L1228.8 823.4L1229.4 827.9L1229.8 833.1L1230.2 828.5L1230.7 835.3L1231.1 832.3L1231.5 838.8L1231.9 834.7L1232.3 842.2L1232.8 837.8L1233.2 844.9L1233.6 842.4L1234.0 846.4L1234.6 852.5L1235.0 856.8L1235.3 853.4L1235.7 860.8L1236.0 855.9L1236.4 864.3L1236.7 859.6L1237.1 865.8L1237.5 863.0L1237.8 870.1L1238.2 866.5L1238.5 872.9L1238.9 869.4L1239.2 874.1L1240.8 876.5L1242.3 870.2L1243.9 871.0L1244.0 875.7L1244.2 872.1L1244.4 878.8L1244.6 874.5L1244.8 883.2L1245.0 878.5L1245.2 885.1L1245.4 881.4L1245.6 888.6L1245.8 885.9L1246.0 893.3L1246.2 889.5L1246.4 895.7L1246.5 891.7L1246.7 900.5L1246.9 898.7L1247.7 898.0L1248.5 904.2L1249.2 901.1L1250.0 906.7L1250.8 904.3L1251.6 907.9L1251.9 913.1L1252.3 909.5L1252.6 915.0L1253.0 912.5L1253.3 918.0L1253.7 915.2L1254.0 922.6L1254.4 917.9L1254.7 925.7L1255.1 921.3L1255.5 927.8L1255.8 925.6L1256.2 929.5L1256.5 934.7L1256.9 931.0L1257.2 936.6L1257.6 933.5L1257.9 939.9L1258.3 936.7L1258.7 942.8L1259.0 940.7L1259.4 947.9L1259.7 944.2L1260.1 951.1L1260.4 947.4L1260.8 951.0L1261.1 956.3L1261.3 951.4L1261.6 959.0L1261.9 955.9L1262.2 961.2L1262.5 958.0L1262.7 964.8L1263.0 962.5L1263.3 969.4L1263.6 964.5L1263.9 969.5L1264.3 972.8L1264.7 969.1L1265.2 976.8L1265.6 973.3L1266.1 979.0L1266.5 976.4L1266.9 980.3L1268.5 920.2L1269.4 855.6L1269.6 860.8L1269.8 856.8L1270.0 862.5L1270.2 860.4L1270.4 865.9L1270.6 863.3L1270.8 870.8L1271.0 867.3L1271.2 872.7L1271.4 868.9L1271.6 874.1L1274.6 914.1L1277.7 880.2L1279.0 882.6L1280.2 874.2L1281.4 878.6L1282.6 873.0L1283.9 874.1L1285.4 834.0L1287.9 858.7L1288.3 860.4L1288.8 852.6L1289.2 856.4L1289.6 849.4L1290.1 851.5L1290.5 845.8L1291.0 846.4L1294.0 877.1L1294.2 878.6L1294.4 870.6L1294.6 874.9L1294.8 867.9L1295.0 871.4L1295.2 864.6L1295.4 868.1L1295.6 860.4L1295.8 864.0L1296.0 857.6L1296.2 858.7L1297.7 797.1L1298.8 799.5L1299.8 791.7L1300.8 794.0L1303.9 843.3L1306.4 692.4L1307.4 694.4L1308.5 692.4L1310.0 754.0L1310.3 752.1L1310.6 760.6L1310.9 757.1L1311.2 762.9L1311.4 760.4L1311.7 765.8L1312.0 762.2L1312.3 769.9L1312.6 765.8L1312.8 772.6L1313.1 772.5L1314.1 769.6L1315.0 773.3L1315.9 765.6L1316.8 771.1L1317.7 766.3L1319.3 764.4L1320.8 771.0L1322.4 769.4L1323.9 767.3L1325.4 773.2L1327.0 772.5L1327.3 768.0L1327.6 771.4L1327.9 765.3L1328.2 768.2L1328.5 761.4L1328.8 764.5L1329.1 760.1L1331.6 787.9L1334.1 726.3L1335.1 723.9L1336.2 726.3L1337.8 781.7L1338.1 785.7L1338.4 782.8L1338.8 789.6L1339.1 785.0L1339.5 793.7L1339.8 788.6L1340.2 796.9L1340.5 793.2L1340.8 797.1L1341.8 801.9L1342.7 797.4L1343.6 802.7L1344.5 799.4L1345.5 803.3L1346.0 807.9L1346.6 804.0L1347.2 810.8L1347.8 807.2L1348.3 814.5L1348.9 810.0L1349.5 816.6L1350.1 815.6L1350.4 814.6L1350.6 822.3L1350.9 817.0L1351.2 825.0L1351.5 821.5L1351.8 828.5L1352.0 825.6L1352.3 831.5L1352.6 827.4L1352.9 835.5L1353.2 834.0L1354.4 833.8L1355.6 837.1L1356.8 797.1L1357.5 801.9L1358.2 797.8L1358.8 805.3L1359.5 800.9L1360.2 806.8L1360.8 806.3L1361.4 805.2L1362.0 812.8L1362.6 808.5L1363.2 815.8L1363.7 811.0L1364.3 817.9L1364.9 814.9L1365.5 818.6L1367.0 846.4L1368.5 877.1L1369.3 881.3L1370.1 877.8L1370.9 884.1L1371.6 880.4L1372.4 888.2L1373.2 886.4L1373.7 885.1L1374.3 891.4L1374.9 888.9L1375.5 894.9L1376.1 891.2L1376.6 897.5L1377.2 895.4L1377.8 898.7L1378.4 902.5L1378.9 899.6L1379.5 905.0L1380.1 902.2L1380.7 909.8L1381.2 905.3L1381.8 912.6L1382.4 911.0L1383.0 909.3L1383.6 917.4L1384.1 912.2L1384.7 919.7L1385.3 915.7L1385.9 922.1L1386.4 918.4L1387.0 923.3L1387.6 927.2L1388.2 923.8L1388.8 931.3L1389.3 927.3L1389.9 933.0L1390.5 929.3L1391.1 936.9L1391.6 935.6L1392.6 935.1L1393.5 939.8L1394.4 937.0L1395.3 942.2L1396.3 941.8L1396.6 940.2L1396.9 947.2L1397.3 944.8L1397.6 951.0L1398.0 947.7L1398.3 954.5L1398.7 950.9L1399.0 958.4L1399.3 957.2L1399.7 952.9L1400.0 955.5L1400.4 948.4L1400.7 953.1L1401.1 946.6L1401.4 949.1L1401.8 944.9L1402.0 943.4L1402.2 951.8L1402.4 948.2L1402.6 953.2L1402.8 950.7L1403.0 957.4L1403.2 953.2L1403.4 961.6L1403.6 957.7L1403.8 964.1L1404.0 963.3L1404.2 962.3L1404.5 970.1L1404.8 966.4L1405.1 972.5L1405.4 970.0L1405.6 976.3L1405.9 973.4L1406.2 980.3L1406.5 975.8L1406.8 982.9L1407.0 981.8L1407.5 981.8L1407.9 987.4L1408.4 984.6L1408.8 992.2L1409.2 987.9L1409.7 994.6L1410.1 994.1L1411.7 991.3L1413.2 995.7L1413.6 996.9L1414.0 989.5L1414.3 992.5L1414.7 986.5L1415.1 990.4L1415.5 983.4L1415.9 986.2L1416.3 981.8L1418.4 920.2L1420.9 951.0L1422.4 895.6L1424.6 855.6L1424.9 854.4L1425.3 861.3L1425.7 857.5L1426.0 865.7L1426.4 860.7L1426.8 868.7L1427.1 865.3L1427.5 870.8L1427.9 868.2L1428.2 874.6L1428.6 874.1L1431.7 843.3L1434.7 803.3L1436.3 735.5L1437.8 603.1L1439.4 570.8L1440.9 609.3L1442.4 607.3L1444.0 609.3L1447.1 658.5L1447.6 660.4L1448.1 653.4L1448.6 657.2L1449.1 648.9L1449.6 652.7L1450.1 649.3L1450.3 644.1L1450.5 648.3L1450.7 642.1L1450.9 644.4L1451.1 639.0L1451.3 641.5L1451.5 634.8L1451.7 638.8L1451.9 630.5L1452.1 633.7L1452.3 627.8L1452.4 630.9L1452.6 624.8L1452.8 627.2L1453.0 621.2L1453.2 621.6L1455.4 655.5L1457.8 692.4L1458.2 697.2L1458.5 693.6L1458.9 699.5L1459.2 697.4L1459.6 703.7L1459.9 700.2L1460.3 704.7L1460.8 708.4L1461.2 704.8L1461.7 711.4L1462.1 707.9L1462.6 715.3L1463.1 712.0L1463.5 718.6L1464.0 717.0L1465.5 658.5L1466.3 655.4L1467.1 657.0L1468.6 698.6L1469.2 702.8L1469.8 698.8L1470.3 706.1L1470.9 702.2L1471.5 708.0L1472.1 704.6L1472.6 712.7L1473.2 710.9L1473.8 709.8L1474.4 716.7L1475.0 713.4L1475.5 720.4L1476.1 715.6L1476.7 722.2L1477.3 718.4L1477.8 723.2L1478.4 728.3L1479.0 724.0L1479.6 731.4L1480.2 726.8L1480.7 732.9L1481.3 729.4L1481.9 736.3L1482.5 735.5L1483.0 734.0L1483.6 741.4L1484.2 738.3L1484.8 744.3L1485.3 739.9L1485.9 747.3L1486.5 743.6L1487.1 747.8L1488.3 752.4L1489.5 747.8L1490.8 754.1L1492.0 750.0L1493.2 754.0L1493.7 758.9L1494.1 755.3L1494.5 760.8L1494.9 757.6L1495.3 765.1L1495.8 761.8L1496.2 769.1L1496.6 764.1L1497.0 771.8L1497.4 767.2L1497.9 772.5L1498.4 777.3L1499.0 772.4L1499.6 779.3L1500.2 777.0L1500.7 783.1L1501.3 778.6L1501.9 785.6L1502.5 784.8L1502.9 780.5L1503.3 784.2L1503.7 777.6L1504.2 781.1L1504.6 773.6L1505.0 777.1L1505.4 771.2L1505.8 774.1L1506.3 767.4L1506.7 771.0L1507.1 766.3L1507.3 766.0L1507.5 772.0L1507.7 769.2L1507.9 775.3L1508.1 771.8L1508.3 778.0L1508.5 776.1L1508.7 782.0L1508.9 779.1L1509.1 785.3L1509.4 782.4L1509.6 787.8L1509.8 785.0L1510.0 792.7L1510.2 790.9L1510.7 789.3L1511.2 797.0L1511.7 793.7L1512.2 799.5L1512.7 797.3L1513.3 803.4L1513.8 799.4L1514.3 806.5L1514.8 806.3L1516.3 803.9L1517.9 810.9L1519.4 809.4L1519.7 808.6L1520.0 814.9L1520.2 810.9L1520.5 818.1L1520.8 815.1L1521.1 822.1L1521.4 819.1L1521.6 824.9L1521.9 821.0L1522.2 829.4L1522.5 827.9L1522.8 826.5L1523.0 834.6L1523.3 831.1L1523.6 837.6L1523.9 833.2L1524.2 840.0L1524.4 837.1L1524.7 844.9L1525.0 840.7L1525.3 847.8L1525.6 846.4L1523.1 835.6L1524.0 832.4L1524.9 836.0L1525.8 829.7L1526.8 833.3L1527.7 829.4L1527.9 828.8L1528.0 836.2L1528.2 831.4L1528.4 838.9L1528.6 835.0L1528.7 842.1L1528.9 838.2L1529.1 845.2L1529.2 842.1L1529.4 849.3L1529.6 845.8L1529.7 851.6L1529.9 849.7L1530.1 856.2L1530.3 853.0L1530.4 859.9L1530.6 855.9L1530.8 860.2L1531.1 865.4L1531.5 860.2L1531.8 868.2L1532.2 864.5L1532.6 870.2L1532.9 867.4L1533.3 874.9L1533.6 870.0L1534.0 877.1L1534.3 874.8L1534.7 882.0L1535.0 877.0L1535.4 881.7L1535.7 886.0L1536.1 882.0L1536.5 888.6L1536.8 885.7L1537.2 893.0L1537.5 888.9L1537.9 895.3L1538.2 893.1L1538.6 899.5L1538.9 895.0L1539.3 901.9L1539.7 900.0L1540.0 903.3L1540.4 906.8L1540.7 903.5L1541.0 910.8L1541.4 907.6L1541.7 915.4L1542.1 910.7L1542.4 917.4L1542.7 914.0L1543.1 918.7L1546.2 878.7L1549.2 912.5L1550.8 875.6L1551.8 878.2L1552.8 875.5L1553.9 878.7L1555.4 918.7L1558.5 875.6L1558.7 880.3L1558.8 877.1L1559.0 882.4L1559.2 879.8L1559.3 886.4L1559.5 882.3L1559.7 889.4L1559.9 886.1L1560.0 893.4L1560.2 889.5L1560.4 896.9L1560.5 893.2L1560.7 900.1L1560.9 897.5L1561.1 903.8L1561.2 899.8L1561.4 907.0L1561.6 906.4L1562.1 905.8L1562.6 911.9L1563.1 909.2L1563.6 914.8L1564.1 911.3L1564.6 915.6L1566.8 860.2L1568.0 862.1L1569.3 858.7L1570.8 897.1L1571.2 896.1L1571.7 902.8L1572.1 900.6L1572.6 905.7L1573.0 903.4L1573.5 909.4L1573.9 906.4L1574.4 913.0L1574.8 912.5L1577.9 881.7L1578.9 877.6L1579.9 882.5L1581.0 878.7L1581.2 877.4L1581.4 885.1L1581.5 881.1L1581.7 887.9L1581.9 884.8L1582.1 890.5L1582.3 887.2L1582.5 894.7L1582.7 892.0L1582.9 898.9L1583.1 897.1L1584.1 893.3L1585.2 897.9L1586.2 894.1L1586.6 893.3L1587.1 899.5L1587.5 895.7L1588.0 903.1L1588.4 900.5L1588.8 908.2L1589.3 906.4L1591.4 866.4L1591.7 866.2L1591.9 872.3L1592.1 868.8L1592.3 875.2L1592.5 871.3L1592.8 878.9L1593.0 876.5L1593.2 882.3L1593.4 879.8L1593.7 886.2L1593.9 884.8L1594.7 883.0L1595.4 891.3L1596.2 887.7L1597.0 891.0L1598.2 892.4L1599.4 887.9 M1624.1 900.2L1624.5 899.9L1625.0 906.4L1625.4 903.1L1625.9 910.0L1626.4 906.0L1626.8 912.4L1627.3 910.7L1627.8 914.1L1629.3 918.4L1630.8 914.0L1632.4 917.2L1632.8 921.0L1633.3 917.1L1633.7 925.0L1634.1 920.9L1634.6 928.5L1635.0 924.8L1635.5 929.5L1636.7 932.3L1637.9 928.4L1639.2 935.6L1640.4 930.5L1641.6 934.1L1642.4 938.7L1643.2 934.2L1643.9 940.5L1644.7 937.1L1645.5 944.6L1646.2 943.3L1647.1 942.4L1648.0 947.6L1648.9 943.9L1649.8 951.2L1650.6 946.9L1651.5 954.6L1652.4 952.6L1652.6 951.3L1652.8 959.5L1653.0 955.4L1653.3 962.8L1653.5 958.9L1653.7 966.6L1653.9 964.9L1655.5 960.5L1657.0 964.6L1658.5 961.8L1659.1 961.4L1659.7 966.9L1660.3 962.9L1660.9 970.4L1661.4 966.6L1662.0 973.3L1662.6 969.9L1663.2 974.1L1663.9 978.0L1664.7 974.9L1665.5 981.5L1666.2 977.5L1667.0 985.2L1667.8 983.3L1668.7 981.9L1669.5 989.9L1670.4 984.7L1671.3 993.1L1672.2 988.1L1673.1 994.5L1673.9 994.1L1675.0 992.1L1676.0 1000.2L1677.0 994.6L1678.0 1002.0L1679.1 997.5L1680.1 1001.8L1680.5 1005.5L1680.9 1001.9L1681.4 1009.6L1681.8 1006.4L1682.2 1012.0L1682.6 1008.6L1683.0 1017.2L1683.5 1013.5L1683.9 1020.1L1684.3 1016.2L1684.7 1020.3L1685.0 1020.5L1685.3 1014.7L1685.6 1018.4L1685.8 1010.2L1686.1 1013.6L1686.4 1007.4L1686.7 1010.2L1687.0 1003.8L1687.2 1007.5L1687.5 1000.1L1687.8 1001.8L1689.3 1005.0L1690.9 998.4L1692.4 1004.3L1694.0 1000.3L1694.3 999.7L1694.7 1005.4L1695.0 1002.4L1695.4 1008.6L1695.7 1006.6L1696.1 1012.7L1696.4 1009.1L1696.8 1015.5L1697.2 1013.5L1697.5 1020.2L1697.9 1016.3L1698.2 1023.7L1698.6 1021.8L1700.1 961.8L1700.9 956.9L1701.7 958.7L1703.8 1004.9L1704.5 1005.7L1705.1 999.3L1705.8 1002.9L1706.5 995.8L1707.1 1000.0L1707.8 995.7L1708.6 991.4L1709.3 995.4L1710.1 987.6L1710.9 992.1L1711.7 985.5L1712.4 986.4L1712.9 987.8L1713.5 980.9L1714.0 983.5L1714.5 976.0L1715.0 980.5L1715.5 973.5L1716.0 976.1L1716.5 970.3L1717.0 971.0L1717.7 854.0L1718.9 856.8L1720.1 854.0L1721.7 931.0L1724.7 847.9L1726.3 804.8L1726.9 804.7L1727.5 810.7L1728.1 806.5L1728.7 810.9L1730.9 755.5L1732.4 657.0L1732.6 657.1L1732.8 650.8L1733.0 654.6L1733.2 647.4L1733.4 651.0L1733.6 644.0L1733.8 648.5L1734.0 642.1L1734.1 643.8L1734.3 637.5L1734.5 642.3L1734.7 635.0L1734.9 635.4L1737.1 681.6L1738.1 683.1L1739.1 676.8L1740.1 678.5L1740.6 679.3L1741.2 673.1L1741.7 676.2L1742.2 670.0L1742.7 673.6L1743.2 669.3L1744.1 607.7L1745.2 605.5L1746.3 607.7L1747.2 681.6L1747.7 685.5L1748.1 681.6L1748.6 687.9L1749.1 685.0L1749.5 692.4L1750.0 688.6L1750.4 694.5L1750.9 693.9L1751.7 692.3L1752.5 699.1L1753.2 696.6L1754.0 702.6L1754.8 698.6L1755.5 703.2L1756.1 706.5L1756.7 704.0L1757.3 710.1L1757.8 706.1L1758.4 713.4L1759.0 709.1L1759.6 715.9L1760.1 715.5L1761.0 714.5L1761.9 721.0L1762.8 716.1L1763.7 723.3L1764.5 720.0L1765.4 725.3L1766.3 724.7L1766.8 723.8L1767.3 730.1L1767.8 726.6L1768.4 734.9L1768.9 731.3L1769.4 737.2L1769.9 733.5L1770.4 741.3L1770.9 740.1L1771.8 738.1L1772.8 744.9L1773.7 741.9L1774.6 747.2L1775.5 746.3L1776.1 744.8L1776.6 751.9L1777.1 749.1L1777.6 755.6L1778.1 752.4L1778.6 759.0L1779.1 754.8L1779.6 761.9L1780.2 761.7L1780.7 761.6L1781.3 768.2L1781.9 762.9L1782.5 771.4L1783.0 766.9L1783.6 774.4L1784.2 769.0L1784.8 774.0L1785.4 777.6L1785.9 774.0L1786.5 781.9L1787.1 777.2L1787.7 784.3L1788.2 781.0L1788.8 787.1L1789.4 786.3L1790.3 785.5L1791.2 790.5L1792.2 787.2L1793.1 793.4L1794.0 792.5L1794.4 790.9L1794.9 797.5L1795.3 794.1L1795.7 802.2L1796.1 797.4L1796.5 805.9L1797.0 800.8L1797.4 808.7L1797.8 805.9L1798.2 812.4L1798.6 810.9L1800.8 847.9L1801.0 844.3L1801.2 846.8L1801.4 840.0L1801.5 843.9L1801.7 837.2L1801.9 841.4L1802.1 833.4L1802.3 836.9L1802.5 830.8L1802.7 834.6L1802.9 827.1L1803.1 831.2L1803.3 826.3L1804.8 824.0L1806.3 826.3L1806.6 830.0L1806.9 827.0L1807.2 834.6L1807.4 831.1L1807.7 837.9L1808.0 833.0L1808.3 841.3L1808.6 836.5L1808.8 843.1L1809.1 840.3L1809.4 844.8L1810.0 849.7L1810.6 846.2L1811.1 851.6L1811.7 848.8L1812.3 855.2L1812.9 851.6L1813.4 858.1L1814.0 857.1L1813.2 854.9L1813.7 853.3L1814.2 859.7L1814.7 857.9L1815.1 863.1L1815.6 860.9L1816.1 866.1L1816.6 866.0L1816.8 864.1L1817.1 872.7L1817.3 869.3L1817.6 875.4L1817.8 872.2L1818.1 878.4L1818.4 875.6L1818.6 882.5L1818.9 878.5L1819.1 885.3L1819.4 882.7L1819.6 888.7L1819.9 888.1L1822.1 863.7L1823.2 823.9L1824.1 823.1L1825.0 826.1L1826.1 874.8L1828.7 903.6L1829.4 907.9L1830.0 903.8L1830.6 910.7L1831.3 908.2L1831.9 913.5L1832.5 910.8L1833.2 914.7L1835.0 883.7L1836.1 886.5L1837.2 883.7L1837.5 882.1L1837.8 889.2L1838.1 885.2L1838.4 892.9L1838.8 889.1L1839.1 895.5L1839.4 894.8L1840.3 893.6L1841.2 900.7L1842.0 899.2L1843.2 916.9L1843.4 916.1L1843.6 923.1L1843.8 919.2L1844.0 925.5L1844.2 922.3L1844.4 929.6L1844.6 926.4L1844.8 932.3L1845.0 929.0L1845.2 936.4L1845.4 934.6L1846.3 932.5L1847.1 939.7L1848.0 935.2L1848.9 943.2L1849.8 941.3L1850.5 940.6L1851.3 946.8L1852.0 943.9L1852.8 950.4L1853.5 945.7L1854.2 950.2L1855.0 955.0L1855.7 949.9L1856.4 954.6L1857.6 863.7L1858.0 799.5L1859.1 802.4L1860.2 799.5L1861.5 870.4L1863.8 841.6L1863.9 836.8L1864.1 840.9L1864.3 834.6L1864.4 837.5L1864.6 831.4L1864.8 833.3L1865.0 826.5L1865.1 829.7L1865.3 824.4L1865.5 826.4L1865.6 819.5L1865.8 823.1L1866.0 819.4L1867.1 761.8L1867.3 758.6L1867.5 761.9L1867.7 755.2L1868.0 758.8L1868.2 750.9L1868.4 755.6L1868.6 750.7L1870.8 784.0L1871.1 778.8L1871.4 783.4L1871.7 775.8L1872.0 779.0L1872.2 772.5L1872.5 776.6L1872.8 769.3L1873.1 772.5L1873.3 765.9L1873.6 770.8L1873.9 763.9L1874.2 764.0L1875.3 748.5L1875.7 752.4L1876.1 749.1L1876.5 756.8L1876.9 753.1L1877.4 758.8L1877.8 756.4L1878.2 763.0L1878.6 761.8L1879.7 708.6L1880.8 675.4L1881.6 673.4L1882.4 677.6L1883.7 730.8L1884.6 699.8L1885.3 730.8"/>
</g>
<g stroke="#000" stroke-width="3" fill="none" stroke-linecap="butt">
<path d="M368.6 254.0V1215.8"/>
<path d="M1919.5 254.0V1215.8"/>
<path d="M367.1 1214.3H1921.0"/>
<path d="M368.6 255.5h16.5"/>
<path d="M1919.5 255.5h-16.5"/>
<path d="M368.6 447.4h16.5"/>
<path d="M1919.5 447.4h-16.5"/>
<path d="M368.6 639.4h16.5"/>
<path d="M1919.5 639.4h-16.5"/>
<path d="M368.6 831.2h16.5"/>
<path d="M1919.5 831.2h-16.5"/>
<path d="M368.6 1023.3h16.5"/>
<path d="M1919.5 1023.3h-16.5"/>
<path d="M368.6 1214.3v14.5"/>
<path d="M509.6 1214.3v14.5"/>
<path d="M650.6 1214.3v14.5"/>
<path d="M791.6 1214.3v14.5"/>
<path d="M932.6 1214.3v14.5"/>
<path d="M1073.6 1214.3v14.5"/>
<path d="M1214.5 1214.3v14.5"/>
<path d="M1355.5 1214.3v14.5"/>
<path d="M1496.5 1214.3v14.5"/>
<path d="M1637.5 1214.3v14.5"/>
<path d="M1778.5 1214.3v14.5"/>
<path d="M1919.5 1214.3v14.5"/>
</g>
<rect x="418.5" y="267.5" width="1462" height="85" fill="#fff" stroke="#000" stroke-width="1"/>
<rect x="534" y="298.2" width="52.8" height="22.7" fill="#00b0f0" stroke="#000" stroke-width="4"/>
<path d="M862.8 309.5H915.8" stroke="#ff00ff" stroke-width="7" stroke-linecap="round"/>
<path d="M1364 309.2H1417.8" stroke="#00ffff" stroke-width="7" stroke-linecap="round"/>
<text y="321.2" font-size="38.5" x="593.0 632.8 671.7 710.9">日降雨量</text>
<text y="321.2" font-size="38.5"><tspan x="922.6 961.9">大庄</tspan><tspan y="322.8" font-size="42.5" x="999.0 1022.6 1046.6 1083.6">48m(</tspan><tspan y="321.2" x="1097.0 1137.3 1177.0">含水層</tspan><tspan y="322.8" font-size="42.5" x="1215.0 1237.4">1)</tspan></text>
<text y="321.2" font-size="38.5"><tspan x="1424.7 1464.0">大庄</tspan><tspan y="322.8" font-size="42.5" x="1503.2 1525.3 1550.2 1572.8 1609.9">199m(</tspan><tspan y="321.2" x="1622.0 1662.3 1702.6">含水層</tspan><tspan y="322.8" font-size="42.5" x="1739.9 1763.9">3)</tspan></text>
<text x="309.1" y="270.8" font-size="50" letter-spacing="-2.5" text-anchor="end">20</text>
<text x="309.1" y="462.7" font-size="50" letter-spacing="-2.5" text-anchor="end">10</text>
<text x="309.1" y="654.7" font-size="50" letter-spacing="-2.5" text-anchor="end">0</text>
<text x="309.1" y="846.5" font-size="50" letter-spacing="-2.5" text-anchor="end">-10</text>
<text x="309.1" y="1038.6" font-size="50" letter-spacing="-2.5" text-anchor="end">-20</text>
<text x="309.1" y="1229.6" font-size="50" letter-spacing="-2.5" text-anchor="end">-30</text>
<text x="1965.4" y="270.8" font-size="50" letter-spacing="-2.5">1000</text>
<text x="1965.0" y="462.7" font-size="50" letter-spacing="-2.5">800</text>
<text x="1965.0" y="654.7" font-size="50" letter-spacing="-2.5">600</text>
<text x="1965.0" y="846.5" font-size="50" letter-spacing="-2.5">400</text>
<text x="1965.0" y="1038.6" font-size="50" letter-spacing="-2.5">200</text>
<text x="1965.0" y="1229.6" font-size="50" letter-spacing="-2.5">0</text>
<text font-size="44.5" letter-spacing="-1" text-anchor="end" transform="translate(375.5 1281.0) rotate(-25)">2014/1</text>
<text font-size="44.5" letter-spacing="-1" text-anchor="end" transform="translate(516.5 1281.0) rotate(-25)">2015/1</text>
<text font-size="44.5" letter-spacing="-1" text-anchor="end" transform="translate(657.5 1281.0) rotate(-25)">2016/1</text>
<text font-size="44.5" letter-spacing="-1" text-anchor="end" transform="translate(798.5 1281.0) rotate(-25)">2017/1</text>
<text font-size="44.5" letter-spacing="-1" text-anchor="end" transform="translate(939.5 1281.0) rotate(-25)">2018/1</text>
<text font-size="44.5" letter-spacing="-1" text-anchor="end" transform="translate(1080.5 1281.0) rotate(-25)">2019/1</text>
<text font-size="44.5" letter-spacing="-1" text-anchor="end" transform="translate(1221.4 1281.0) rotate(-25)">2020/1</text>
<text font-size="44.5" letter-spacing="-1" text-anchor="end" transform="translate(1362.4 1281.0) rotate(-25)">2021/1</text>
<text font-size="44.5" letter-spacing="-1" text-anchor="end" transform="translate(1503.4 1281.0) rotate(-25)">2022/1</text>
<text font-size="44.5" letter-spacing="-1" text-anchor="end" transform="translate(1644.4 1281.0) rotate(-25)">2023/1</text>
<text font-size="44.5" letter-spacing="-1" text-anchor="end" transform="translate(1785.4 1281.0) rotate(-25)">2024/1</text>
<text font-size="44.5" letter-spacing="-1" text-anchor="end" transform="translate(1926.4 1281.0) rotate(-25)">2025/1</text>
<text font-size="42" transform="translate(208 950) rotate(-90)"><tspan x="2.1 45.9 91.4 135.1 180.1 225.4">地下水位高程</tspan><tspan dy="4.5" x="255.3">（</tspan><tspan dy="-4" font-size="48" x="313.0">m</tspan><tspan dy="4" x="366.8">）</tspan></text>
<text font-size="42" transform="translate(2102.5 950) rotate(-90)"><tspan x="35.1 79.2 123.1 168.0">日降雨量</tspan><tspan dy="4.5" x="199.0">（</tspan><tspan dy="-3.5" font-size="48" x="256.0 298.3">mm</tspan><tspan dy="3.5" x="352.0">）</tspan></text>
<text class="kai" font-size="47.5" y="1429.4" x="1012.3 1063.5 1104.2 1164.5 1214.5 1242.9 1294.2">時間（年<tspan font-size="58">/</tspan>月）</text>
</svg></body></html>
